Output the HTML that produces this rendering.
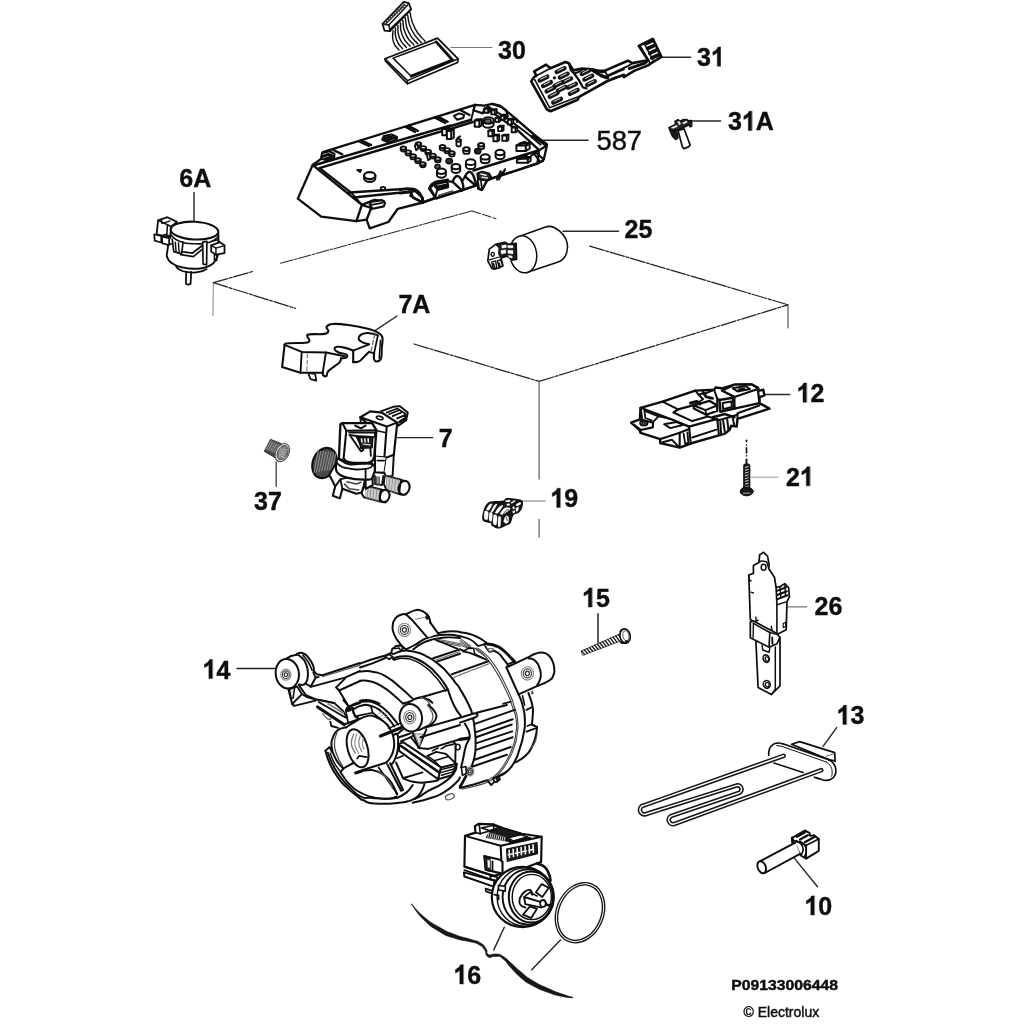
<!DOCTYPE html>
<html><head><meta charset="utf-8"><title>Exploded view</title>
<style>
html,body{margin:0;padding:0;background:#fff;}
body{width:1024px;height:1024px;overflow:hidden;font-family:"Liberation Sans",sans-serif;}
svg{display:block;}
text{font-family:"Liberation Sans",sans-serif;fill:#111;stroke:#111;stroke-width:0.45px;stroke-linejoin:round;}
</style></head><body>
<svg width="1024" height="1024" viewBox="0 0 1024 1024" stroke-linejoin="round" stroke-linecap="round">
<defs><filter id="soft" x="-2%" y="-2%" width="104%" height="104%"><feGaussianBlur stdDeviation="0.55"/></filter></defs>
<rect width="1024" height="1024" fill="#fff"/>
<g filter="url(#soft)">
<!-- 00_labels.py -->
<text transform="translate(498 58.6) scale(0.94 1)" font-size="26.6" font-weight="bold" text-anchor="start" >30</text>
<text transform="translate(697 66.2) scale(0.94 1)" font-size="26.6" font-weight="bold" text-anchor="start" >3</text>
<path d="M720.74 66.2 L717.31 66.2 L717.31 52.45 Q715.43 54.32 712.88 55.21 L712.88 51.9 Q714.22 51.43 715.8 50.13 Q717.37 48.82 717.96 47.08 L720.74 47.08Z" fill="#111" stroke="#111" stroke-width="0.45" stroke-linejoin="round"/>
<text transform="translate(728 130.4) scale(0.94 1)" font-size="26.6" font-weight="bold" text-anchor="start" >3</text>
<path d="M751.74 130.4 L748.31 130.4 L748.31 116.65 Q746.43 118.52 743.88 119.41 L743.88 116.1 Q745.22 115.63 746.8 114.33 Q748.37 113.02 748.96 111.28 L751.74 111.28Z" fill="#111" stroke="#111" stroke-width="0.45" stroke-linejoin="round"/>
<text transform="translate(755.8 130.4) scale(0.94 1)" font-size="26.6" font-weight="bold" text-anchor="start" >A</text>
<text transform="translate(596.4 149.8) scale(1.0 1)" font-size="27.4" font-weight="normal" text-anchor="start" stroke-width="0.5">587</text>
<text transform="translate(624.5 238.3) scale(0.94 1)" font-size="26.6" font-weight="bold" text-anchor="start" >25</text>
<text transform="translate(179.3 187) scale(0.94 1)" font-size="26.6" font-weight="bold" text-anchor="start" >6A</text>
<text transform="translate(398.4 312.9) scale(0.94 1)" font-size="26.6" font-weight="bold" text-anchor="start" >7A</text>
<path d="M806.44 402.2 L803.01 402.2 L803.01 388.45 Q801.13 390.32 798.58 391.21 L798.58 387.9 Q799.92 387.43 801.5 386.13 Q803.07 384.82 803.66 383.08 L806.44 383.08Z" fill="#111" stroke="#111" stroke-width="0.45" stroke-linejoin="round"/>
<text transform="translate(810.5 402.2) scale(0.94 1)" font-size="26.6" font-weight="bold" text-anchor="start" >2</text>
<text transform="translate(786 485.8) scale(0.94 1)" font-size="26.6" font-weight="bold" text-anchor="start" >2</text>
<path d="M809.74 485.8 L806.31 485.8 L806.31 472.05 Q804.43 473.92 801.88 474.81 L801.88 471.5 Q803.22 471.03 804.8 469.73 Q806.37 468.42 806.96 466.68 L809.74 466.68Z" fill="#111" stroke="#111" stroke-width="0.45" stroke-linejoin="round"/>
<text transform="translate(438.8 447.4) scale(0.94 1)" font-size="26.6" font-weight="bold" text-anchor="start" >7</text>
<text transform="translate(254 509.5) scale(0.94 1)" font-size="26.6" font-weight="bold" text-anchor="start" >37</text>
<path d="M560.14 507.4 L556.71 507.4 L556.71 493.65 Q554.83 495.52 552.28 496.41 L552.28 493.1 Q553.62 492.63 555.2 491.33 Q556.77 490.02 557.36 488.28 L560.14 488.28Z" fill="#111" stroke="#111" stroke-width="0.45" stroke-linejoin="round"/>
<text transform="translate(564.2 507.4) scale(0.94 1)" font-size="26.6" font-weight="bold" text-anchor="start" >9</text>
<path d="M591.84 607 L588.41 607 L588.41 593.25 Q586.53 595.12 583.98 596.01 L583.98 592.7 Q585.32 592.23 586.9 590.93 Q588.47 589.62 589.06 587.88 L591.84 587.88Z" fill="#111" stroke="#111" stroke-width="0.45" stroke-linejoin="round"/>
<text transform="translate(595.9 607) scale(0.94 1)" font-size="26.6" font-weight="bold" text-anchor="start" >5</text>
<text transform="translate(814.5 615.3) scale(0.94 1)" font-size="26.6" font-weight="bold" text-anchor="start" >26</text>
<path d="M212.34 678.5 L208.91 678.5 L208.91 664.75 Q207.03 666.62 204.48 667.51 L204.48 664.2 Q205.82 663.73 207.4 662.43 Q208.97 661.12 209.56 659.38 L212.34 659.38Z" fill="#111" stroke="#111" stroke-width="0.45" stroke-linejoin="round"/>
<text transform="translate(216.4 678.5) scale(0.94 1)" font-size="26.6" font-weight="bold" text-anchor="start" >4</text>
<path d="M846.34 724.4 L842.91 724.4 L842.91 710.65 Q841.03 712.52 838.48 713.41 L838.48 710.1 Q839.82 709.63 841.4 708.33 Q842.97 707.02 843.56 705.28 L846.34 705.28Z" fill="#111" stroke="#111" stroke-width="0.45" stroke-linejoin="round"/>
<text transform="translate(850.4 724.4) scale(0.94 1)" font-size="26.6" font-weight="bold" text-anchor="start" >3</text>
<path d="M814.24 915 L810.81 915 L810.81 901.25 Q808.93 903.12 806.38 904.01 L806.38 900.7 Q807.72 900.23 809.3 898.93 Q810.87 897.62 811.46 895.88 L814.24 895.88Z" fill="#111" stroke="#111" stroke-width="0.45" stroke-linejoin="round"/>
<text transform="translate(818.3 915) scale(0.94 1)" font-size="26.6" font-weight="bold" text-anchor="start" >0</text>
<path d="M463.24 983.9 L459.81 983.9 L459.81 970.15 Q457.93 972.02 455.38 972.91 L455.38 969.6 Q456.72 969.13 458.3 967.83 Q459.87 966.52 460.46 964.78 L463.24 964.78Z" fill="#111" stroke="#111" stroke-width="0.45" stroke-linejoin="round"/>
<text transform="translate(467.3 983.9) scale(0.94 1)" font-size="26.6" font-weight="bold" text-anchor="start" >6</text>
<text transform="translate(731.2 989.8) scale(1.125 1)" font-size="14" font-weight="bold" text-anchor="start" stroke-width="0.15">P09133006448</text>
<text transform="translate(743.5 1017.2) scale(1.0 1)" font-size="14" font-weight="normal" text-anchor="start" stroke-width="0.1">© Electrolux</text>
<line x1="451" y1="47.5" x2="492" y2="47.5" stroke="#777" stroke-width="1.1" />
<line x1="662" y1="57.3" x2="690.5" y2="57.3" stroke="#2a2a2a" stroke-width="1.45" />
<line x1="692.5" y1="120.9" x2="720.6" y2="120.9" stroke="#2a2a2a" stroke-width="1.45" />
<line x1="543" y1="140.3" x2="588" y2="140.3" stroke="#2a2a2a" stroke-width="1.45" />
<line x1="563" y1="231.3" x2="618.5" y2="231.3" stroke="#2a2a2a" stroke-width="1.45" />
<line x1="194" y1="192.5" x2="194" y2="221" stroke="#2a2a2a" stroke-width="1.45" />
<line x1="397" y1="316" x2="375" y2="330.6" stroke="#2a2a2a" stroke-width="1.45" />
<line x1="765" y1="394.4" x2="789.7" y2="394.4" stroke="#2a2a2a" stroke-width="1.45" />
<line x1="751.5" y1="477.2" x2="778.2" y2="477.2" stroke="#999" stroke-width="1.0" />
<line x1="397.6" y1="437.6" x2="432.7" y2="437.6" stroke="#222" stroke-width="1.4" />
<line x1="276.2" y1="462" x2="276.2" y2="486.2" stroke="#555" stroke-width="1.5" />
<line x1="520.6" y1="501" x2="545.3" y2="501" stroke="#777" stroke-width="1.1" />
<line x1="598" y1="613.8" x2="598" y2="642.5" stroke="#222" stroke-width="1.5" />
<line x1="786.6" y1="606.9" x2="806.9" y2="606.9" stroke="#777" stroke-width="1.1" />
<line x1="237" y1="668.5" x2="275.6" y2="668.5" stroke="#222" stroke-width="1.4" />
<line x1="836.6" y1="727.6" x2="823.1" y2="746.4" stroke="#2a2a2a" stroke-width="1.45" />
<line x1="793.9" y1="857.6" x2="817.5" y2="886.8" stroke="#2a2a2a" stroke-width="1.45" />
<line x1="504.3" y1="927.2" x2="493.8" y2="949.9" stroke="#222" stroke-width="1.4" />
<line x1="560.5" y1="940.1" x2="531.7" y2="969.8" stroke="#222" stroke-width="1.4" />
<line x1="213.3" y1="283" x2="213" y2="315.5" stroke="#777" stroke-width="0.9" />
<line x1="213.3" y1="282.7" x2="252.6" y2="271.5" stroke="#222" stroke-width="1.25" stroke-dasharray="15 1.6 3 1.6"/>
<line x1="280.6" y1="263.3" x2="472" y2="210.9" stroke="#2a2a2a" stroke-width="1.05" stroke-dasharray="13 1.5 2.5 1.5"/>
<line x1="472" y1="210.9" x2="496" y2="218.7" stroke="#2a2a2a" stroke-width="1.05" stroke-dasharray="9 2"/>
<line x1="213.3" y1="282.7" x2="295.6" y2="308.4" stroke="#222" stroke-width="1.25" stroke-dasharray="15 1.6 3 1.6"/>
<line x1="414" y1="344" x2="539.1" y2="381.4" stroke="#222" stroke-width="1.25" stroke-dasharray="15 1.6 3 1.6"/>
<line x1="539.1" y1="381.4" x2="788" y2="304.8" stroke="#222" stroke-width="1.25" stroke-dasharray="15 1.6 3 1.6"/>
<line x1="589.7" y1="246.1" x2="788" y2="304.8" stroke="#222" stroke-width="1.25" stroke-dasharray="15 1.6 3 1.6"/>
<line x1="788" y1="304.8" x2="788" y2="328" stroke="#333" stroke-width="1.0" />
<line x1="539.1" y1="381.4" x2="539.1" y2="479" stroke="#666" stroke-width="1.3" />
<line x1="539.1" y1="519.4" x2="539.1" y2="537" stroke="#666" stroke-width="1.3" />
<!-- 10_p30.py -->
<path d="M393.1 30.6 C393.2 34.3 391.4 35.1 393.3 41.6 C395.3 48 397.1 47.2 399 50" fill="none" stroke="#111" stroke-width="1.43" />
<path d="M395.5 28 C395.8 31.9 394 32.7 396.4 39.6 C398.8 46.5 400.6 45.7 402.7 48.8" fill="none" stroke="#111" stroke-width="1.43" />
<path d="M397.9 25.4 C398.4 29.5 396.6 30.4 399.4 37.7 C402.3 45.1 404.1 44.2 406.4 47.5" fill="none" stroke="#111" stroke-width="1.43" />
<path d="M400.4 22.9 C401.1 27.2 399.2 28 402.5 35.8 C405.8 43.6 407.6 42.8 410.1 46.2" fill="none" stroke="#111" stroke-width="1.43" />
<path d="M402.8 20.3 C403.7 24.8 401.9 25.6 405.6 33.9 C409.3 42.1 411.1 41.3 413.9 45" fill="none" stroke="#111" stroke-width="1.43" />
<path d="M405.2 17.7 C406.3 22.4 404.5 23.3 408.6 32 C412.8 40.7 414.6 39.8 417.6 43.8" fill="none" stroke="#111" stroke-width="1.43" />
<path d="M407.6 15.1 C409 20.1 407.1 20.9 411.7 30 C416.3 39.2 418.1 38.3 421.3 42.5" fill="none" stroke="#111" stroke-width="1.43" />
<path d="M410 12.5 C411.6 17.7 409.8 18.5 414.8 28.1 C419.8 37.7 421.6 36.9 425 41.2" fill="none" stroke="#111" stroke-width="1.43" />
<path d="M382.5 23.8 L403.8 1.9 L408.8 3.1 L411.2 9.4 L390 31.2 L384.4 30.6Z" fill="#fff" stroke="#111" stroke-width="1.76" />
<path d="M390 29.4 L410.2 9.8" fill="none" stroke="#111" stroke-width="1.54" />
<path d="M382.5 23.8 L388.8 25 L390 31.2" fill="none" stroke="#111" stroke-width="1.43" />
<path d="M388.8 25 L408.8 3.8" fill="none" stroke="#111" stroke-width="1.43" />
<path d="M386 22.2 L406 3.5" fill="none" stroke="#222" stroke-width="2.86" stroke-dasharray="1.4 1.35" stroke-linecap="butt"/>
<path d="M384.8 25 L404.4 5" fill="none" stroke="#333" stroke-width="1.32" />
<path d="M385 58.8 L437.5 38.1 L458.1 58.8 L457.5 62.5 L407.5 83.8 L385.6 61.2Z" fill="#fff" stroke="#111" stroke-width="1.76" />
<path d="M385 58.8 L407.5 80.6 L458.1 58.8" fill="none" stroke="#111" stroke-width="1.54" />
<path d="M407.5 80.6 L407.5 83.8" fill="none" stroke="#111" stroke-width="1.43" />
<path d="M393.1 58.1 L436.2 41.9 L452.5 60 L411.2 76.2Z" fill="none" stroke="#111" stroke-width="1.54" />
<path d="M436.2 41.9 L452.5 60 L411.2 76.2" fill="none" stroke="#111" stroke-width="2.86" />
<!-- 11_p31.py -->
<path d="M531.2 81.4 L533.8 77.4 L536.4 75.7 L534.2 71.3 L546.1 64.7 L550.5 68.2 L565.4 62 L568.9 63.3 L573.3 70.4 L582.1 68.6 L588.3 69.1 L594.4 69.9 L602.3 72.1 L604.4 70.9 L627.8 60.7 L632.5 63.1 L645 60.7 L648.1 60.2 L638.8 45.9 L652.8 38.8 L661.4 56.8 L651.2 63.1 L648.1 65.4 L634.1 70.9 L623.9 77.1 L623.9 74.8 L607.5 81 L578.6 97.2 L577.7 99.8 L550.5 111.2 L547 109.5Z" fill="#fff" stroke="#111" stroke-width="2.62" />
<path d="M534.7 79.6 L549.6 107.7 L576.9 97.2" fill="none" stroke="#111" stroke-width="1.62" />
<path d="M536.4 75.7 L550.5 68.2" fill="none" stroke="#111" stroke-width="1.75" />
<path d="M568.9 63.3 L570.7 69.9 L574.2 73.5 L578.6 79.6 L583 87.5 L586.5 88.4" fill="none" stroke="#111" stroke-width="2.25" />
<path d="M574.2 73.5 L579.5 71.7 L583 69.1" fill="none" stroke="#111" stroke-width="1.88" />
<path d="M593.4 70.9 L601.2 75.6 L607.5 77.9" fill="none" stroke="#111" stroke-width="3.25" />
<path d="M604.4 70.9 L607.5 75.6 L627.8 66.2 L632.5 63.1" fill="none" stroke="#111" stroke-width="1.88" />
<path d="M629.4 68.5 L645 63.1 L648.1 60.2" fill="none" stroke="#111" stroke-width="3.0" />
<path d="M588.8 69.3 L598.1 70.9 L605.2 70.9" fill="none" stroke="#111" stroke-width="3.0" />
<path d="M539.7 80.4 L547.2 76.7" fill="none" stroke="#151515" stroke-width="4.5" />
<path d="M540.6 79.2 L546.3 76.5" fill="none" stroke="#ddd" stroke-width="1.0" />
<path d="M543.2 85.9 L550.8 82.2" fill="none" stroke="#151515" stroke-width="4.5" />
<path d="M544.1 84.7 L549.8 81.9" fill="none" stroke="#ddd" stroke-width="1.0" />
<path d="M546.7 91.3 L554.3 87.6" fill="none" stroke="#151515" stroke-width="4.5" />
<path d="M547.6 90.1 L553.3 87.4" fill="none" stroke="#ddd" stroke-width="1.0" />
<path d="M549.8 96.8 L557.4 93.1" fill="none" stroke="#151515" stroke-width="4.5" />
<path d="M550.7 95.7 L556.4 92.9" fill="none" stroke="#ddd" stroke-width="1.0" />
<path d="M553.3 102.6 L560.9 98.9" fill="none" stroke="#151515" stroke-width="4.5" />
<path d="M554.2 101.4 L559.9 98.6" fill="none" stroke="#ddd" stroke-width="1.0" />
<path d="M556.8 72 L564.4 68.3" fill="none" stroke="#151515" stroke-width="4.5" />
<path d="M557.8 70.8 L563.4 68" fill="none" stroke="#ddd" stroke-width="1.0" />
<path d="M559.9 77.5 L567.5 73.8" fill="none" stroke="#151515" stroke-width="4.5" />
<path d="M560.8 76.3 L566.5 73.6" fill="none" stroke="#ddd" stroke-width="1.0" />
<path d="M563.4 82.3 L571 78.6" fill="none" stroke="#151515" stroke-width="4.5" />
<path d="M564.3 81.2 L570 78.4" fill="none" stroke="#ddd" stroke-width="1.0" />
<path d="M568.2 87.6 L575.8 83.9" fill="none" stroke="#151515" stroke-width="4.5" />
<path d="M569.2 86.4 L574.9 83.7" fill="none" stroke="#ddd" stroke-width="1.0" />
<path d="M570 93.8 L577.6 90.1" fill="none" stroke="#151515" stroke-width="4.5" />
<path d="M570.9 92.6 L576.6 89.8" fill="none" stroke="#ddd" stroke-width="1.0" />
<path d="M554.6 85.9 L562.2 82.2" fill="none" stroke="#151515" stroke-width="4.5" />
<path d="M555.6 84.7 L561.2 81.9" fill="none" stroke="#ddd" stroke-width="1.0" />
<path d="M558.1 90.7 L565.7 87" fill="none" stroke="#151515" stroke-width="4.5" />
<path d="M559.1 89.5 L564.8 86.7" fill="none" stroke="#ddd" stroke-width="1.0" />
<path d="M581.9 74 L589.4 70.3" fill="none" stroke="#151515" stroke-width="4.5" />
<path d="M582.8 72.8 L588.5 70" fill="none" stroke="#ddd" stroke-width="1.0" />
<path d="M584.5 79.5 L592.1 75.8" fill="none" stroke="#151515" stroke-width="4.5" />
<path d="M585.4 78.4 L591.1 75.6" fill="none" stroke="#ddd" stroke-width="1.0" />
<path d="M587.1 85 L594.7 81.3" fill="none" stroke="#151515" stroke-width="4.5" />
<path d="M588.1 83.8 L593.8 81" fill="none" stroke="#ddd" stroke-width="1.0" />
<ellipse cx="554.4" cy="77.9" rx="1.3" ry="1.3" transform="rotate(0 554.4 77.9)" fill="#111" stroke="#111" stroke-width="0.62"/>
<path d="M607.7 76.2 L612 74.3" fill="none" stroke="#111" stroke-width="2.25" />
<path d="M613.4 73.7 L617.8 71.8" fill="none" stroke="#111" stroke-width="2.25" />
<path d="M619.4 71 L623.8 69.2" fill="none" stroke="#111" stroke-width="2.25" />
<path d="M612.3 78.8 L616.7 77" fill="none" stroke="#111" stroke-width="2.25" />
<path d="M638.8 45.9 L641.1 47.4 L649.7 62.3" fill="none" stroke="#111" stroke-width="1.62" />
<path d="M644.2 43.5 L652.8 59.9" fill="none" stroke="#111" stroke-width="1.5" />
<path d="M645.5 43.8 L653.1 40.4" fill="none" stroke="#111" stroke-width="3.75" />
<path d="M647.6 48.5 L655.2 45.1" fill="none" stroke="#111" stroke-width="3.75" />
<path d="M649.7 53.2 L657.3 49.8" fill="none" stroke="#111" stroke-width="3.75" />
<path d="M651.8 57.9 L659.5 54.5" fill="none" stroke="#111" stroke-width="3.75" />
<!-- 12_p31a.py -->
<path d="M669.6 129.6 L676.7 130.8 L678.1 137.8 L675.5 139.6 L672.6 136.6Z" fill="#1a1a1a" stroke="#111" stroke-width="1.4" />
<path d="M678.1 130.8 L684 128.7 L690.2 145.1 L688.4 146.9 L684 148.7 L682.5 147.2Z" fill="#fff" stroke="#111" stroke-width="1.7" />
<path d="M668.8 127.6 L675.5 124.3 L674.9 121.4 L677.9 119.6 L680.2 121.1 L683.1 119.6 L686.6 119.4 L688.4 120.8 L691.6 120.5 L691.9 126.1 L690.2 127 L689 124.9 L676.7 130.8 L669.6 129.6Z" fill="#222" stroke="#111" stroke-width="1.4" />
<path d="M671.4 127.6 L676.4 125.2 L677.6 126.4 L673.2 128.4Z" fill="#fff" stroke="#fff" stroke-width="0.3" />
<path d="M682.5 122.9 L686.3 120.9 L687.5 122 L683.7 124Z" fill="#fff" stroke="#fff" stroke-width="0.3" />
<path d="M677.6 121.7 L679.3 121.1 L680.8 124 L679.3 124.9Z" fill="#eee" stroke="#eee" stroke-width="0.3" />
<!-- 13_p587.py -->
<path d="M297.8 198.6 L312.7 165 L321.2 158.8 L322.8 152.2 L475 104.8 L484.4 105.6 L492.2 103.8 L501.6 107.2 L509.4 113.4 L546.9 145.5 L543.8 159.5 L538.3 163.4 L520 169.4 L492.5 178.1 L486.7 180.6 L482 189.8 L478.4 188.9 L477.3 183.9 L475 185.8 L460.9 190.5 L436.2 198 L422.2 202.7 L422.8 202.5 L397.8 208.8 L388.4 222 L369.7 228.3 L366.6 219.7 L356.4 221.2 L321.2 216.6Z" fill="#fff" stroke="#111" stroke-width="2.33" />
<path d="M312.7 165 L361.9 204.8 L356.4 221.2" fill="none" stroke="#111" stroke-width="2.33" />
<path d="M361.9 204.8 L371.2 208 L366.6 219.7" fill="none" stroke="#111" stroke-width="2.33" />
<path d="M315.8 164.7 L450 125.6" fill="none" stroke="#111" stroke-width="2.48" />
<path d="M319.4 168.1 L450 128.8" fill="none" stroke="#111" stroke-width="2.48" />
<path d="M450 126.2 L471.1 119.7" fill="none" stroke="#111" stroke-width="2.48" />
<path d="M450 129.1 L472.7 122" fill="none" stroke="#111" stroke-width="2.48" />
<path d="M471.1 119.7 L475 104.8" fill="none" stroke="#111" stroke-width="1.86" />
<path d="M333 149.7 L342.3 154.4" fill="none" stroke="#111" stroke-width="2.33" />
<path d="M358.8 141.2 L368.9 145.9" fill="none" stroke="#111" stroke-width="2.33" />
<path d="M361.1 140.3 L371.2 145" fill="none" stroke="#111" stroke-width="2.33" />
<path d="M405.6 126.9 L415 131.9" fill="none" stroke="#111" stroke-width="2.33" />
<path d="M408.4 125.9 L417.8 130.9" fill="none" stroke="#111" stroke-width="2.33" />
<path d="M435.3 117.5 L444.7 122.5" fill="none" stroke="#111" stroke-width="2.33" />
<path d="M435.2 117.8 L445.3 122.8" fill="none" stroke="#111" stroke-width="2.33" />
<path d="M438.3 116.9 L447.7 121.7" fill="none" stroke="#111" stroke-width="2.33" />
<path d="M460.2 110 L469.5 115" fill="none" stroke="#111" stroke-width="2.33" />
<path d="M321.2 158.8 L322 153.3 L329.1 151.2 L334.5 153.8 L333.8 158 L326.7 160.3Z" fill="#fff" stroke="#111" stroke-width="2.17" />
<path d="M322.8 156.4 L328.3 154.4 L333.8 156.4" fill="none" stroke="#111" stroke-width="3.1" />
<path d="M325.2 158.8 L330.9 156.9" fill="none" stroke="#111" stroke-width="2.48" />
<path d="M382.2 139.7 L383.8 136.1 L391.6 134.5 L397 136.9 L396.2 140.3 L388.4 142.3Z" fill="#fff" stroke="#111" stroke-width="2.17" />
<path d="M383.8 138.8 L390 136.9 L396.2 138.8" fill="none" stroke="#111" stroke-width="3.1" />
<path d="M386.1 140.8 L392.3 138.8" fill="none" stroke="#111" stroke-width="2.48" />
<path d="M453.9 115.8 L459.4 113.4 L464.1 115 L463.3 118.1 L457 119.7Z" fill="#fff" stroke="#111" stroke-width="2.02" />
<path d="M319.7 168.1 L351.7 193.1" fill="none" stroke="#111" stroke-width="2.33" />
<path d="M349.4 192.5 L407.2 188.8" fill="none" stroke="#111" stroke-width="2.48" />
<path d="M353.3 197.5 L409.5 191.6" fill="none" stroke="#111" stroke-width="2.48" />
<path d="M351.7 193.1 L361.9 204.8" fill="none" stroke="#111" stroke-width="2.02" />
<path d="M361.9 204.8 L374.4 199.8 L383.8 201.2" fill="none" stroke="#111" stroke-width="2.33" />
<path d="M369.7 204.8 L371.2 201.7 L382.2 200.2 L385 202.8 L383.8 206.4 L372.8 208.8Z" fill="#fff" stroke="#111" stroke-width="2.17" />
<path d="M371.2 204.8 L382.2 202.8" fill="none" stroke="#111" stroke-width="1.86" />
<path d="M407.2 188.8 L415 190.8 L422.8 197.8 L422.8 202.5 L413.4 197.8 L410.3 192.3" fill="none" stroke="#111" stroke-width="2.48" />
<path d="M422.8 202.5 L435.3 197.8" fill="none" stroke="#111" stroke-width="2.33" />
<path d="M435.3 197.8 L429.8 187.7 L436.1 182.2 L447.8 179.8" fill="none" stroke="#111" stroke-width="2.48" />
<path d="M434.5 185.3 L447 182.5 L448.1 187.2 L437.7 190Z" fill="#fff" stroke="#111" stroke-width="2.17" />
<path d="M364.1 175.6 L364.1 178.4 A5.6 3.5 0 0 0 375.3 178.4 L375.3 175.6" fill="#fff" stroke="#111" stroke-width="2.17" />
<ellipse cx="369.7" cy="175.6" rx="5.6" ry="3.5" transform="rotate(0 369.7 175.6)" fill="#fff" stroke="#111" stroke-width="2.17"/>
<path d="M357.2 170 L361.1 170 L360 172Z" fill="#333" stroke="#111" stroke-width="1.86" />
<ellipse cx="383" cy="188.4" rx="2.2" ry="1.5" transform="rotate(0 383 188.4)" fill="none" stroke="#111" stroke-width="1.86"/>
<path d="M539.1 150.2 L473.4 170.5" fill="none" stroke="#111" stroke-width="2.48" />
<path d="M492.6 178.1 L520 169.3 L543 161.1" fill="none" stroke="#111" stroke-width="2.17" />
<path d="M400 189.8 C403.2 189.5 405.3 188.3 410.5 188.7 C415.8 189 414.2 188.6 417.6 191 C420.9 193.5 420.2 193.4 421.7 196.9 C423.2 200.4 422.3 201 422.5 202.7" fill="none" stroke="#111" stroke-width="2.48" />
<path d="M410.5 195.9 C411.2 194.7 410.5 193.2 412.7 191.7 C414.8 190.2 416.1 191.2 417.6 191" fill="none" stroke="#111" stroke-width="2.17" />
<path d="M410.5 195.9 L422.3 202.3" fill="none" stroke="#111" stroke-width="2.33" />
<path d="M400 193.6 L410 192.4" fill="none" stroke="#111" stroke-width="2.02" />
<path d="M429.3 188.9 C430.1 187.5 429.1 186.5 431.9 184.2 C434.7 181.9 434.2 182 438.7 181.2 C443.2 180.3 444.4 181.3 446.9 181.4" fill="none" stroke="#111" stroke-width="2.48" />
<path d="M429.3 188.9 L435.2 197.1 L436.6 198.3" fill="none" stroke="#111" stroke-width="2.33" />
<path d="M435.2 197.1 C435.8 195.1 436 193.2 437.3 190.4 C438.5 187.6 438.7 188.5 439.3 187.7" fill="none" stroke="#111" stroke-width="2.02" />
<path d="M435.2 184.2 L446.9 181.6 L448.3 185.5 L437.7 188.4Z" fill="#fff" stroke="#111" stroke-width="2.17" />
<path d="M437.7 186.6 L446.6 184.5" fill="none" stroke="#111" stroke-width="2.02" />
<path d="M422.5 202.7 L435.2 197.8" fill="none" stroke="#111" stroke-width="2.33" />
<path d="M446.9 181.4 L452.7 181.6" fill="none" stroke="#111" stroke-width="2.17" />
<path d="M452.7 181.9 C453.4 180.5 453.3 178.8 455.1 177.2 C456.9 175.6 456.7 175.1 458.8 176.5 C460.9 177.8 460.8 178.3 462.1 181.6 C463.4 184.9 463.3 184.8 463.3 187.5 C463.3 190.2 462.5 189.6 462.1 190.5" fill="none" stroke="#111" stroke-width="2.48" />
<path d="M452.7 181.9 L461.6 190.1" fill="none" stroke="#111" stroke-width="2.33" />
<path d="M436.6 198.3 L460.9 190.7 L475 185.9" fill="none" stroke="#111" stroke-width="2.33" />
<path d="M438.7 195.5 L452.7 191" fill="none" stroke="#444" stroke-width="1.55" />
<path d="M465 176.5 C465.9 175.3 466 173.6 468 172.5 C470 171.4 469.6 170.6 471.7 173 C473.8 175.4 473.8 176.8 475 180.5 C476.2 184.1 475.5 183.8 475.7 185.2" fill="none" stroke="#111" stroke-width="2.48" />
<path d="M465 176.5 L474.5 184.7" fill="none" stroke="#111" stroke-width="2.33" />
<path d="M462.1 181.6 L465 176.5" fill="none" stroke="#111" stroke-width="2.02" />
<path d="M477.6 180.7 L478.8 188.7 L482 189.8 L486.5 181.4" fill="#fff" stroke="#111" stroke-width="2.33" />
<path d="M480.9 180.7 L482 189.3" fill="none" stroke="#111" stroke-width="1.71" />
<path d="M477.3 173.4 L482 171.7 L489.1 173.4 L491.4 177.5 L486.7 180.7 L477.9 179.3Z" fill="#2a2a2a" stroke="#111" stroke-width="1.86" />
<path d="M480.9 174 L486.1 175.2" fill="none" stroke="#eee" stroke-width="1.55" />
<path d="M482 177.2 L487.3 178.1" fill="none" stroke="#ddd" stroke-width="1.55" />
<path d="M486.7 180.7 L492.6 178.1" fill="none" stroke="#111" stroke-width="2.17" />
<path d="M497 179.5 L500.6 171.3" fill="none" stroke="#111" stroke-width="2.17" />
<path d="M499 179.5 L502.2 172.3" fill="none" stroke="#111" stroke-width="1.86" />
<path d="M502.2 175.2 L505 169.3" fill="none" stroke="#111" stroke-width="2.17" />
<path d="M484.4 108.8 L493.8 113.4 L518.8 131.4 L539.1 150.2" fill="none" stroke="#111" stroke-width="2.33" />
<path d="M487.5 106.4 L509.4 119.7 L529.7 135.3 L540.6 144.7" fill="none" stroke="#111" stroke-width="2.02" />
<path d="M546.9 145.5 L539.1 150.2 L537.5 163.4" fill="none" stroke="#111" stroke-width="2.33" />
<path d="M532.8 136.9 L537.5 138.4 L546.1 144.7" fill="none" stroke="#111" stroke-width="4.03" />
<path d="M531.2 155.6 L535.9 152.5 L543 158.8" fill="none" stroke="#111" stroke-width="2.17" />
<path d="M534.4 154.1 L539.1 160.3" fill="none" stroke="#111" stroke-width="2.02" />
<path d="M475 104.8 L473.4 110.3 L482.8 113.4 L484.4 108.8" fill="none" stroke="#111" stroke-width="2.17" />
<path d="M492.2 103.8 L500 105.6 L506.2 110.3 L507.8 116.6" fill="none" stroke="#111" stroke-width="2.17" />
<path d="M509.4 120.5 L516.4 118.9 L517.2 122" fill="none" stroke="#111" stroke-width="2.17" />
<path d="M400.8 148.1 L400.8 150.3 A2.7 1.6 0 0 0 406.1 150.3 L406.1 148.1" fill="#fff" stroke="#111" stroke-width="1.94" />
<ellipse cx="403.4" cy="148.1" rx="2.7" ry="1.6" transform="rotate(0 403.4 148.1)" fill="#fff" stroke="#111" stroke-width="1.94"/>
<path d="M405.6 152 L405.6 154.2 A2.7 1.6 0 0 0 410.9 154.2 L410.9 152" fill="#fff" stroke="#111" stroke-width="1.94" />
<ellipse cx="408.3" cy="152" rx="2.7" ry="1.6" transform="rotate(0 408.3 152)" fill="#fff" stroke="#111" stroke-width="1.94"/>
<path d="M410.5 155.9 L410.5 158.1 A2.7 1.6 0 0 0 415.8 158.1 L415.8 155.9" fill="#fff" stroke="#111" stroke-width="1.94" />
<ellipse cx="413.1" cy="155.9" rx="2.7" ry="1.6" transform="rotate(0 413.1 155.9)" fill="#fff" stroke="#111" stroke-width="1.94"/>
<path d="M415.3 159.8 L415.3 162 A2.7 1.6 0 0 0 420.6 162 L420.6 159.8" fill="#fff" stroke="#111" stroke-width="1.94" />
<ellipse cx="418" cy="159.8" rx="2.7" ry="1.6" transform="rotate(0 418 159.8)" fill="#fff" stroke="#111" stroke-width="1.94"/>
<path d="M420.2 163.8 L420.2 165.9 A2.7 1.6 0 0 0 425.5 165.9 L425.5 163.8" fill="#fff" stroke="#111" stroke-width="1.94" />
<ellipse cx="422.8" cy="163.8" rx="2.7" ry="1.6" transform="rotate(0 422.8 163.8)" fill="#fff" stroke="#111" stroke-width="1.94"/>
<path d="M415.8 143.9 L415.8 146.1 A2.7 1.6 0 0 0 421.1 146.1 L421.1 143.9" fill="#fff" stroke="#111" stroke-width="1.94" />
<ellipse cx="418.4" cy="143.9" rx="2.7" ry="1.6" transform="rotate(0 418.4 143.9)" fill="#fff" stroke="#111" stroke-width="1.94"/>
<path d="M420.6 147.7 L420.6 149.8 A2.7 1.6 0 0 0 425.9 149.8 L425.9 147.7" fill="#fff" stroke="#111" stroke-width="1.94" />
<ellipse cx="423.3" cy="147.7" rx="2.7" ry="1.6" transform="rotate(0 423.3 147.7)" fill="#fff" stroke="#111" stroke-width="1.94"/>
<path d="M425.5 151.4 L425.5 153.6 A2.7 1.6 0 0 0 430.8 153.6 L430.8 151.4" fill="#fff" stroke="#111" stroke-width="1.94" />
<ellipse cx="428.1" cy="151.4" rx="2.7" ry="1.6" transform="rotate(0 428.1 151.4)" fill="#fff" stroke="#111" stroke-width="1.94"/>
<path d="M430.3 155.2 L430.3 157.3 A2.7 1.6 0 0 0 435.6 157.3 L435.6 155.2" fill="#fff" stroke="#111" stroke-width="1.94" />
<ellipse cx="433" cy="155.2" rx="2.7" ry="1.6" transform="rotate(0 433 155.2)" fill="#fff" stroke="#111" stroke-width="1.94"/>
<path d="M435.2 158.9 L435.2 161.1 A2.7 1.6 0 0 0 440.5 161.1 L440.5 158.9" fill="#fff" stroke="#111" stroke-width="1.94" />
<ellipse cx="437.8" cy="158.9" rx="2.7" ry="1.6" transform="rotate(0 437.8 158.9)" fill="#fff" stroke="#111" stroke-width="1.94"/>
<path d="M414.8 145.5 L417.2 143.9 L418.4 148.6 L416.1 150.2Z" fill="#fff" stroke="#111" stroke-width="1.86" />
<path d="M426.9 154.8 L429.2 153.3 L430.5 158.8 L428.1 160.3Z" fill="#fff" stroke="#111" stroke-width="1.86" />
<path d="M439.8 146.6 L439.8 148.9 A2.7 1.6 0 0 0 445.2 148.9 L445.2 146.6" fill="#fff" stroke="#111" stroke-width="1.94" />
<ellipse cx="442.5" cy="146.6" rx="2.7" ry="1.6" transform="rotate(0 442.5 146.6)" fill="#fff" stroke="#111" stroke-width="1.94"/>
<path d="M444.5 149.7 L444.5 152 A2.7 1.6 0 0 0 449.8 152 L449.8 149.7" fill="#fff" stroke="#111" stroke-width="1.94" />
<ellipse cx="447.2" cy="149.7" rx="2.7" ry="1.6" transform="rotate(0 447.2 149.7)" fill="#fff" stroke="#111" stroke-width="1.94"/>
<path d="M449.2 152.8 L449.2 155.2 A2.7 1.6 0 0 0 454.5 155.2 L454.5 152.8" fill="#fff" stroke="#111" stroke-width="1.94" />
<ellipse cx="451.9" cy="152.8" rx="2.7" ry="1.6" transform="rotate(0 451.9 152.8)" fill="#fff" stroke="#111" stroke-width="1.94"/>
<ellipse cx="449.2" cy="161.1" rx="3.2" ry="2.6" transform="rotate(0 449.2 161.1)" fill="#333" stroke="#111" stroke-width="1.55"/>
<ellipse cx="437.5" cy="166.6" rx="2.6" ry="2.2" transform="rotate(0 437.5 166.6)" fill="#555" stroke="#111" stroke-width="1.55"/>
<path d="M437 171.2 L437 175 A4.4 2.7 0 0 0 445.8 175 L445.8 171.2" fill="#fff" stroke="#111" stroke-width="2.02" />
<ellipse cx="441.4" cy="171.2" rx="4.4" ry="2.7" transform="rotate(0 441.4 171.2)" fill="#fff" stroke="#111" stroke-width="2.02"/>
<path d="M451.7 166.6 L451.7 170.3 A4.2 2.6 0 0 0 460.2 170.3 L460.2 166.6" fill="#fff" stroke="#111" stroke-width="2.02" />
<ellipse cx="455.9" cy="166.6" rx="4.2" ry="2.6" transform="rotate(0 455.9 166.6)" fill="#fff" stroke="#111" stroke-width="2.02"/>
<path d="M463.3 149.1 L463.3 151.9 A3.1 1.9 0 0 0 469.5 151.9 L469.5 149.1" fill="#fff" stroke="#111" stroke-width="2.02" />
<ellipse cx="466.4" cy="149.1" rx="3.1" ry="1.9" transform="rotate(0 466.4 149.1)" fill="#fff" stroke="#111" stroke-width="2.02"/>
<path d="M465.9 162.2 L465.9 166.2 A4.7 2.9 0 0 0 475.3 166.2 L475.3 162.2" fill="#fff" stroke="#111" stroke-width="2.02" />
<ellipse cx="470.6" cy="162.2" rx="4.7" ry="2.9" transform="rotate(0 470.6 162.2)" fill="#fff" stroke="#111" stroke-width="2.02"/>
<path d="M480.8 156.9 L480.8 160.9 A4.4 2.7 0 0 0 489.5 160.9 L489.5 156.9" fill="#fff" stroke="#111" stroke-width="2.02" />
<ellipse cx="485.2" cy="156.9" rx="4.4" ry="2.7" transform="rotate(0 485.2 156.9)" fill="#fff" stroke="#111" stroke-width="2.02"/>
<path d="M495.6 152.5 L495.6 156.6 A4.4 2.7 0 0 0 504.4 156.6 L504.4 152.5" fill="#fff" stroke="#111" stroke-width="2.02" />
<ellipse cx="500" cy="152.5" rx="4.4" ry="2.7" transform="rotate(0 500 152.5)" fill="#fff" stroke="#111" stroke-width="2.02"/>
<path d="M478.4 144.7 L478.4 147.5 A2.8 1.7 0 0 0 484.1 147.5 L484.1 144.7" fill="#fff" stroke="#111" stroke-width="2.02" />
<ellipse cx="481.2" cy="144.7" rx="2.8" ry="1.7" transform="rotate(0 481.2 144.7)" fill="#fff" stroke="#111" stroke-width="2.02"/>
<ellipse cx="477.7" cy="151.2" rx="3" ry="2.6" transform="rotate(0 477.7 151.2)" fill="#222" stroke="#111" stroke-width="1.55"/>
<path d="M456.4 140.3 L456.4 145 A2.2 1.4 0 0 0 460.8 145 L460.8 140.3" fill="#fff" stroke="#111" stroke-width="1.86" />
<ellipse cx="458.6" cy="140.3" rx="2.2" ry="1.4" transform="rotate(0 458.6 140.3)" fill="#fff" stroke="#111" stroke-width="1.86"/>
<path d="M457.5 138.1 L460.2 136.2" fill="none" stroke="#111" stroke-width="1.86" />
<path d="M442.2 129.1 L444.7 127.6 L449.1 127.6 L449.1 133.8 L446.6 135.3 L442.2 135.3Z" fill="#fff" stroke="#111" stroke-width="2.02" />
<path d="M442.2 129.1 L446.6 129.1 L446.6 135.3" fill="none" stroke="#111" stroke-width="2.02" />
<path d="M446.6 129.1 L449.1 127.6" fill="none" stroke="#111" stroke-width="2.02" />
<path d="M446.9 130.9 L449.4 129.4 L453.8 129.4 L453.8 137.6 L451.2 139.1 L446.9 139.1Z" fill="#fff" stroke="#111" stroke-width="2.02" />
<path d="M446.9 130.9 L451.2 130.9 L451.2 139.1" fill="none" stroke="#111" stroke-width="2.02" />
<path d="M451.2 130.9 L453.8 129.4" fill="none" stroke="#111" stroke-width="2.02" />
<path d="M474.7 120.5 L476.9 119.2 L481.6 119.2 L481.6 125.4 L479.4 126.7 L474.7 126.7Z" fill="#fff" stroke="#111" stroke-width="2.02" />
<path d="M474.7 120.5 L479.4 120.5 L479.4 126.7" fill="none" stroke="#111" stroke-width="2.02" />
<path d="M479.4 120.5 L481.6 119.2" fill="none" stroke="#111" stroke-width="2.02" />
<path d="M483 120.5 L483 124.5 A5.3 3.3 0 0 0 493.6 124.5 L493.6 120.5" fill="#fff" stroke="#111" stroke-width="2.02" />
<ellipse cx="488.3" cy="120.5" rx="5.3" ry="3.3" transform="rotate(0 488.3 120.5)" fill="#fff" stroke="#111" stroke-width="2.02"/>
<ellipse cx="487.8" cy="121.2" rx="3.4" ry="2.2" transform="rotate(0 487.8 121.2)" fill="#666" stroke="#111" stroke-width="1.55"/>
<path d="M488.3 130.9 L490 129.9 L494.1 129.9 L494.1 135.2 L492.3 136.2 L488.3 136.2Z" fill="#fff" stroke="#111" stroke-width="1.86" />
<path d="M488.3 130.9 L492.3 130.9 L492.3 136.2" fill="none" stroke="#111" stroke-width="1.86" />
<path d="M492.3 130.9 L494.1 129.9" fill="none" stroke="#111" stroke-width="1.86" />
<path d="M493.4 135.6 L495.2 134.6 L499.2 134.6 L499.2 140.2 L497.5 141.2 L493.4 141.2Z" fill="#fff" stroke="#111" stroke-width="1.86" />
<path d="M493.4 135.6 L497.5 135.6 L497.5 141.2" fill="none" stroke="#111" stroke-width="1.86" />
<path d="M497.5 135.6 L499.2 134.6" fill="none" stroke="#111" stroke-width="1.86" />
<path d="M498.1 126.7 L499.8 125.7 L503.6 125.7 L503.6 130.1 L501.9 131.1 L498.1 131.1Z" fill="#fff" stroke="#111" stroke-width="1.86" />
<path d="M498.1 126.7 L501.9 126.7 L501.9 131.1" fill="none" stroke="#111" stroke-width="1.86" />
<path d="M501.9 126.7 L503.6 125.7" fill="none" stroke="#111" stroke-width="1.86" />
<path d="M502.3 135.6 L504.1 134.6 L508.4 134.6 L508.4 139.9 L506.7 140.9 L502.3 140.9Z" fill="#fff" stroke="#111" stroke-width="1.86" />
<path d="M502.3 135.6 L506.7 135.6 L506.7 140.9" fill="none" stroke="#111" stroke-width="1.86" />
<path d="M506.7 135.6 L508.4 134.6" fill="none" stroke="#111" stroke-width="1.86" />
<path d="M495.3 118.1 L497 117.1 L500.5 117.1 L500.5 120.8 L498.8 121.9 L495.3 121.9Z" fill="#fff" stroke="#111" stroke-width="1.86" />
<path d="M495.3 118.1 L498.8 118.1 L498.8 121.9" fill="none" stroke="#111" stroke-width="1.86" />
<path d="M498.8 118.1 L500.5 117.1" fill="none" stroke="#111" stroke-width="1.86" />
<path d="M500.8 115.8 L502.5 114.8 L505.9 114.8 L505.9 118.8 L504.2 119.8 L500.8 119.8Z" fill="#fff" stroke="#111" stroke-width="1.86" />
<path d="M500.8 115.8 L504.2 115.8 L504.2 119.8" fill="none" stroke="#111" stroke-width="1.86" />
<path d="M504.2 115.8 L505.9 114.8" fill="none" stroke="#111" stroke-width="1.86" />
<path d="M507.8 119.7 L509.5 118.7 L513.3 118.7 L513.3 123.3 L511.6 124.4 L507.8 124.4Z" fill="#fff" stroke="#111" stroke-width="1.86" />
<path d="M507.8 119.7 L511.6 119.7 L511.6 124.4" fill="none" stroke="#111" stroke-width="1.86" />
<path d="M511.6 119.7 L513.3 118.7" fill="none" stroke="#111" stroke-width="1.86" />
<path d="M511.7 127.5 L513.4 126.5 L517.2 126.5 L517.2 131.2 L515.5 132.2 L511.7 132.2Z" fill="#fff" stroke="#111" stroke-width="1.86" />
<path d="M511.7 127.5 L515.5 127.5 L515.5 132.2" fill="none" stroke="#111" stroke-width="1.86" />
<path d="M515.5 127.5 L517.2 126.5" fill="none" stroke="#111" stroke-width="1.86" />
<path d="M484.4 108.8 L486.1 107.7 L489.8 107.7 L489.8 111.8 L488.1 112.8 L484.4 112.8Z" fill="#fff" stroke="#111" stroke-width="1.86" />
<path d="M484.4 108.8 L488.1 108.8 L488.1 112.8" fill="none" stroke="#111" stroke-width="1.86" />
<path d="M488.1 108.8 L489.8 107.7" fill="none" stroke="#111" stroke-width="1.86" />
<path d="M491.4 110.3 L493.1 109.3 L496.6 109.3 L496.6 113.3 L494.8 114.4 L491.4 114.4Z" fill="#fff" stroke="#111" stroke-width="1.86" />
<path d="M491.4 110.3 L494.8 110.3 L494.8 114.4" fill="none" stroke="#111" stroke-width="1.86" />
<path d="M494.8 110.3 L496.6 109.3" fill="none" stroke="#111" stroke-width="1.86" />
<path d="M516.4 145.5 L520.3 143.1 L529.7 143.1 L529.7 148.6 L525.8 150.9 L516.4 150.9Z" fill="#fff" stroke="#111" stroke-width="2.02" />
<path d="M516.4 145.5 L525.8 145.5 L525.8 150.9" fill="none" stroke="#111" stroke-width="2.02" />
<path d="M525.8 145.5 L529.7 143.1" fill="none" stroke="#111" stroke-width="2.02" />
<path d="M520.3 143.9 L525 142.3 L527.3 144.7" fill="none" stroke="#111" stroke-width="3.1" />
<path d="M516.9 158.8 L519.7 157.1 L530.6 157.1 L530.6 161 L527.8 162.7 L516.9 162.7Z" fill="#fff" stroke="#111" stroke-width="2.02" />
<path d="M516.9 158.8 L527.8 158.8 L527.8 162.7" fill="none" stroke="#111" stroke-width="2.02" />
<path d="M527.8 158.8 L530.6 157.1" fill="none" stroke="#111" stroke-width="2.02" />
<path d="M518.8 158.8 L526.6 156.4" fill="none" stroke="#111" stroke-width="3.1" />
<!-- 14_p6a.py -->
<path d="M186.2 271.9 L185.9 283.6 L188.1 284.7 L190.6 283.8 L191.2 271.9" fill="#fff" stroke="#111" stroke-width="1.8" />
<path d="M176.1 264.8 C176.9 266.1 174.5 266.3 178.4 268.8 C182.3 271.2 181 271.1 187.8 272.2 C194.6 273.2 192.5 272.9 198.8 271.9 C205 270.8 204 270 206.6 269.1" fill="none" stroke="#111" stroke-width="1.8" />
<path d="M170.9 231.2 C170 236.2 168.4 242.9 167.5 250 C166.6 257.1 166.2 254.3 167.5 257.8 C168.8 261.4 168.4 260.8 172.2 263.3 C175.9 265.8 175.3 265.7 181.6 267.2 C187.8 268.6 188.5 269 195.6 268.8 C202.7 268.5 202.7 268.9 208.1 266.4 C213.5 263.9 213.2 263.8 215.9 259.4 C218.6 255 217.7 257.3 218.3 250 C218.9 242.7 218.3 236.8 218.3 232" fill="#fff" stroke="#111" stroke-width="1.92" />
<path d="M158.1 220.3 L167.5 217.2 L176.9 221.9 L170.9 226.6 L170.3 237.5 L156.6 234.4Z" fill="#fff" stroke="#111" stroke-width="1.8" />
<path d="M158.1 220.3 L167.5 224.7 L170.9 226.6" fill="none" stroke="#111" stroke-width="1.56" />
<path d="M167.5 224.7 L166.7 236.7" fill="none" stroke="#111" stroke-width="1.56" />
<path d="M161.2 219.5 L162 223.4 L169.8 221.1" fill="none" stroke="#111" stroke-width="1.44" />
<path d="M154.2 234.4 L161.2 235.9 L161.2 242.5 L154.7 240.6Z" fill="#fff" stroke="#111" stroke-width="1.68" />
<path d="M162 236.7 L169.1 238.3 L169.1 245 L162.3 243.4Z" fill="#fff" stroke="#111" stroke-width="1.68" />
<path d="M161.2 235.9 L165.2 234.4 L169.1 235.6" fill="none" stroke="#111" stroke-width="1.44" />
<ellipse cx="194.5" cy="230.6" rx="23.8" ry="8.9" transform="rotate(3 194.5 230.6)" fill="#fff" stroke="#111" stroke-width="2.04"/>
<path d="M170.9 235.2 C173.7 237 172.6 238.8 180 241.4 C187.4 244 186.7 243.5 195.6 243.8 C204.5 244 202.9 244.3 209.7 242.2 C216.5 240.1 215.7 238.4 218.3 236.7" fill="none" stroke="#111" stroke-width="1.56" />
<path d="M172.2 239.1 L173.8 251.6 L181.6 253.9 L183.1 242.2" fill="none" stroke="#111" stroke-width="1.68" />
<path d="M175.3 242.2 L176.1 251.6" fill="none" stroke="#111" stroke-width="1.44" />
<path d="M178.4 243 L179.2 252.3" fill="none" stroke="#111" stroke-width="1.44" />
<path d="M181.6 251.6 L192.5 253.1 L202.7 245.3" fill="none" stroke="#111" stroke-width="1.92" />
<path d="M180.8 254.7 L193.3 256.6 L203.4 248.4" fill="none" stroke="#111" stroke-width="1.68" />
<path d="M202.7 242.2 L203.1 264.1 L206.6 264.8 L206.9 241.4Z" fill="#fff" stroke="#111" stroke-width="1.68" />
<path d="M167.5 245.3 L171.4 243.8" fill="none" stroke="#111" stroke-width="1.56" />
<path d="M211.2 245.3 L219.8 242.2 L224.5 245.3 L224.5 253.1 L215.9 254.7 L211.2 251.6Z" fill="#fff" stroke="#111" stroke-width="1.8" />
<path d="M211.2 245.3 L215.9 248.1 L224.5 245.6" fill="none" stroke="#111" stroke-width="1.44" />
<path d="M215.9 248.1 L215.9 254.7" fill="none" stroke="#111" stroke-width="1.44" />
<path d="M214.4 254.7 L214.4 260.2 L216.7 260.6 L216.9 254.7" fill="none" stroke="#111" stroke-width="1.56" />
<path d="M211.2 241.4 L217.5 239.8 L219.8 242.2" fill="none" stroke="#111" stroke-width="1.56" />
<!-- 15_p7a.py -->
<path d="M308.1 373.2 L310.6 379.2 L316.3 380.7 L315.1 373.9Z" fill="#fff" stroke="#111" stroke-width="1.75" />
<path d="M284.6 344.9 L287.8 343.3 L305.5 342.8 L309.4 340.5 L307.5 336.7 L309.4 334.4 L324.6 333.9 L328.4 330.9 L326.5 327.1 L332.2 324 L348.7 325 L369 329 L377.9 332.6 L382.4 337.3 L381.7 348.1 L381.1 358.2 L377.3 361.4 L374.1 359.5 L374.1 353.2 L369 351.9 L363.9 357 L358.9 361.4 L353.2 362.1 L353.2 350.6 L346.2 348.1 L337.3 346.8 L334.7 349.4 L338.6 352.5 L346.2 354.4 L346.2 357.6 L341.1 358.2 L339.2 362.7 L328.4 370.9 L326.5 376 L323.3 375.4 L322.7 372.8 L300.5 372.8 L282.1 367.1Z" fill="#fff" stroke="#fff" stroke-width="0.62" />
<path d="M284.6 344.9 C285.2 344.6 283.6 343.7 287.8 343.3 C292 342.8 301.2 343.3 305.5 342.8 C309.9 342.2 309 341.7 309.4 340.5 C309.7 339.2 307.5 337.9 307.5 336.7 C307.5 335.4 305.9 334.9 309.4 334.4 C312.8 333.8 320.8 334.6 324.6 333.9 C328.4 333.2 328 332.3 328.4 330.9 C328.8 329.6 325.7 328.5 326.5 327.1 C327.3 325.7 327.8 324.4 332.2 324 C336.6 323.5 341.3 324 348.7 325 C356.1 326 363.2 327.5 369 329 C374.9 330.6 375.2 330.9 377.9 332.6 C380.6 334.2 381.6 334.2 382.4 337.3 C383.1 340.4 382 343.9 381.7 348.1 C381.5 352.3 382 355.6 381.1 358.2 C380.2 360.9 378.7 361.2 377.3 361.4 C375.9 361.7 374.7 361.2 374.1 359.5 C373.5 357.9 374.1 354.4 374.1 353.2" fill="none" stroke="#111" stroke-width="2.12" />
<path d="M374.1 353.2 L369 351.9" fill="none" stroke="#111" stroke-width="2.0" />
<path d="M369 351.9 C367.7 353.2 366.7 354.4 363.9 357 C361.2 359.5 361.7 360.1 358.9 361.4 C356 362.8 354.7 361.9 353.2 362.1" fill="none" stroke="#111" stroke-width="2.12" />
<path d="M353.2 362.1 L353.2 350.6" fill="none" stroke="#111" stroke-width="2.12" />
<path d="M353.2 350.6 C351.5 350 349.9 349 346.2 348.1 C342.5 347.2 340 346.5 337.3 346.8 C334.6 347.1 334.4 348 334.7 349.4 C335 350.7 335.9 351.3 338.6 352.5 C341.2 353.7 344.4 353.2 346.2 354.4 C347.9 355.6 347.4 356.7 346.2 357.6 C345 358.5 342.3 358.1 341.1 358.2" fill="none" stroke="#111" stroke-width="2.12" />
<path d="M341.1 358.2 C340.7 359.1 341.7 360.1 339.2 362.7 C336.6 365.2 330.9 368.3 328.4 370.9 C325.9 373.6 327.5 375.1 326.5 376 C325.5 376.9 324.1 376 323.3 375.4 C322.6 374.7 322.8 373.3 322.7 372.8" fill="none" stroke="#111" stroke-width="2.12" />
<path d="M322.7 372.8 L300.5 372.8 L282.1 367.1 L284.6 344.9" fill="none" stroke="#111" stroke-width="2.12" />
<path d="M284.6 344.9 L301.7 351.9 L325.9 352.5 L344.9 356.3" fill="none" stroke="#111" stroke-width="2.0" />
<path d="M301.7 351.9 L300.5 372.8" fill="none" stroke="#111" stroke-width="1.88" />
<path d="M325.9 352.5 L322.7 372.8" fill="none" stroke="#111" stroke-width="1.88" />
<path d="M307.5 353.8 L306.8 370.9" fill="none" stroke="#777" stroke-width="1.12" stroke-dasharray="4 2.5"/>
<path d="M353.2 350.6 L369 344.3" fill="none" stroke="#111" stroke-width="1.88" />
<path d="M369 344.3 C367 343.6 364.1 343.6 361.4 341.7 C358.7 339.9 358.2 339.5 358.9 337.3 C359.5 335.1 360.6 334.5 363.9 333.5 C367.3 332.5 367.8 333 371.6 333.5 C375.3 334 376.2 334.9 377.9 335.4" fill="none" stroke="#111" stroke-width="2.0" />
<path d="M377.9 335.4 L374.1 353.2" fill="none" stroke="#111" stroke-width="1.75" />
<path d="M374.7 334.1 L370.9 351.9" fill="none" stroke="#666" stroke-width="1.25" stroke-dasharray="4 2.5"/>
<path d="M380.4 340.5 L379.2 358.2" fill="none" stroke="#111" stroke-width="1.5" />
<!-- 16_p25.py -->
<path d="M520.5 236 L545.6 227 C554.2 224 567.9 235 567.5 247.2 C567.1 256 562.5 260.4 558.1 261.9 L526.9 272.6" fill="#fff" stroke="#111" stroke-width="1.6" />
<ellipse cx="523.2" cy="254.3" rx="13.4" ry="18.6" transform="rotate(-9 523.2 254.3)" fill="#fff" stroke="#111" stroke-width="1.5"/>
<path d="M487.8 260.9 L489.3 249.2 L495.6 244.3 L504.9 242.3 L508.3 244.3 L516.1 243.3 L516.6 259.4 L512.2 259.9 L507.3 256 L501 258 L502.9 265.8 L499.5 267.7 L494.2 269.2 L491.7 268.2Z" fill="#fff" stroke="#111" stroke-width="1.7" />
<path d="M495.6 244.3 L504.9 242.3 L508.3 244.3 L516.1 243.3 L516.6 259.4 L512.2 259.9 L507.3 256 L501 258 L498.6 254.1 L499 248.2Z" fill="#1c1c1c" stroke="#111" stroke-width="1.0" />
<path d="M501.7 245.5 L506.2 244.8 L506.4 247.4 L502.1 248.2Z" fill="#fff" stroke="#fff" stroke-width="0.3" />
<path d="M507.8 245.5 L513 245.5 L513 248 L508 247.8Z" fill="#fff" stroke="#fff" stroke-width="0.3" />
<path d="M501 250.6 L505.6 249.7 L506 253.1 L501.5 254.1Z" fill="#fff" stroke="#fff" stroke-width="0.3" />
<path d="M508 250.2 L513 250.6 L513 253.9 L508.1 253.3Z" fill="#fff" stroke="#fff" stroke-width="0.3" />
<path d="M508.3 255.5 L512.2 256 L512.2 258 L509.3 257.5Z" fill="#fff" stroke="#fff" stroke-width="0.3" />
<ellipse cx="492.7" cy="254.3" rx="1.6" ry="2" transform="rotate(0 492.7 254.3)" fill="none" stroke="#111" stroke-width="1.3"/>
<path d="M489.3 259.9 L501 256.5" fill="none" stroke="#111" stroke-width="1.3" />
<path d="M491.7 262.1 L495.6 260.9 L496.8 267.7 L493.4 268.9Z" fill="#fff" stroke="#111" stroke-width="1.4" />
<path d="M497.4 260.9 L500.7 259.7 L502.7 265.8 L499.1 267.2Z" fill="#fff" stroke="#111" stroke-width="1.4" />
<path d="M493.7 263.8 L494.6 268.2" fill="none" stroke="#111" stroke-width="1.6" />
<path d="M499 262.9 L500.2 266.8" fill="none" stroke="#111" stroke-width="1.6" />
<!-- 17_p12.py -->
<path d="M631.2 422.7 L639.8 419.5 L640.6 407.8 L662.5 401.6 L695.3 390.6 L714.1 389.8 L715.6 387.5 L721.9 388.3 L734.4 384.7 L751.6 384.4 L757.8 387.5 L759.4 390.6 L763.3 389.8 L764.4 395.3 L759.7 397.2 L759.4 403.1 L769.5 408.6 L737.5 418.8 L736.7 426.6 L731.2 425.8 L729.7 429.7 L725 433.6 L692.2 443 L679.7 447.7 L660.2 443 L660.2 439.1 L640.6 432.8 L639.1 429.7Z" fill="#fff" stroke="#111" stroke-width="2.41" />
<path d="M640.6 407.8 L671.9 419.5 L689.1 426.6 L717.2 418.8" fill="none" stroke="#111" stroke-width="2.27" />
<path d="M662.5 401.6 L678.1 409.4 L698.4 403.9" fill="none" stroke="#111" stroke-width="2.13" />
<path d="M678.1 409.4 L673.4 412.5 L692.2 421.1 L707.8 416.4" fill="none" stroke="#111" stroke-width="2.13" />
<path d="M695.3 390.6 L698.4 394.5 L706.2 393 L714.1 389.8" fill="none" stroke="#111" stroke-width="1.99" />
<path d="M698.4 394.5 L703.1 399.2 L693.8 405.5" fill="none" stroke="#111" stroke-width="1.99" />
<path d="M703.1 392.2 L706.2 396.9 L712.5 398.4" fill="none" stroke="#111" stroke-width="2.84" />
<path d="M693.8 405.5 L709.4 400.8 L717.2 405.5 L717.2 410.9 L706.2 414.8 L693.8 408.6Z" fill="#fff" stroke="#111" stroke-width="2.27" />
<path d="M693.8 405.5 L705.5 410.2 L717.2 405.5" fill="none" stroke="#111" stroke-width="1.99" />
<path d="M705.5 410.2 L706.2 414.8" fill="none" stroke="#111" stroke-width="1.85" />
<path d="M690.6 403.1 L696.9 401.6 L700 403.9" fill="none" stroke="#111" stroke-width="3.12" />
<path d="M721.9 390.6 L734.4 384.7 L751.6 384.4 L757.8 388.3 L759.4 403.1 L734.4 408.6 L734.4 396.9Z" fill="#fff" stroke="#111" stroke-width="2.27" />
<path d="M721.9 390.6 L734.4 396.9 L757.8 389.1" fill="none" stroke="#111" stroke-width="2.13" />
<path d="M732.8 388.3 L745.3 385.9 L750 389.1 L737.5 391.4Z" fill="none" stroke="#111" stroke-width="1.99" />
<path d="M739.1 389.8 L743.8 388.8" fill="none" stroke="#111" stroke-width="2.84" />
<path d="M719.5 400 L732.8 397.7 L734.4 408.6 L720.3 411.7Z" fill="#fff" stroke="#111" stroke-width="2.56" />
<path d="M722.7 403.1 L731.2 401.6 L732 407 L723.1 409.1Z" fill="none" stroke="#111" stroke-width="1.99" />
<path d="M717.2 398.4 L719.5 400" fill="none" stroke="#111" stroke-width="1.99" />
<path d="M714.1 389.8 L717.2 398.4 L717.2 405.5" fill="none" stroke="#111" stroke-width="1.99" />
<path d="M759.4 405.5 L737.5 413.3 L737.5 418.8" fill="none" stroke="#111" stroke-width="1.99" />
<path d="M689.1 426.6 L690.6 443" fill="none" stroke="#111" stroke-width="2.13" />
<path d="M679.7 432.8 L679.7 447.2" fill="none" stroke="#111" stroke-width="2.13" />
<path d="M660.2 439.1 L679.7 432.8 L689.1 428.9" fill="none" stroke="#111" stroke-width="2.13" />
<path d="M662.5 442.2 L671.9 439.8 L678.1 446.1" fill="none" stroke="#111" stroke-width="1.99" />
<path d="M683.6 433.6 L685.2 443.8 L688.3 443 L687.5 432.5" fill="none" stroke="#111" stroke-width="1.85" />
<path d="M692.2 437.5 L716.4 429.7" fill="none" stroke="#111" stroke-width="1.85" />
<path d="M717.2 418.8 L718.8 433.6" fill="none" stroke="#111" stroke-width="2.13" />
<path d="M707.8 416.4 L718.8 420.3 L737.5 414.8" fill="none" stroke="#111" stroke-width="1.99" />
<path d="M720.3 421.9 L721.1 433.1" fill="none" stroke="#111" stroke-width="1.99" />
<path d="M723.1 420.6 L725 433.1" fill="none" stroke="#111" stroke-width="1.99" />
<path d="M727.3 419.5 L728.4 429.7" fill="none" stroke="#111" stroke-width="1.99" />
<path d="M732.8 418.4 L734.4 425.8" fill="none" stroke="#111" stroke-width="1.99" />
<path d="M712.5 417.2 L725 414.1 L734.4 417.2" fill="none" stroke="#111" stroke-width="2.56" />
<path d="M631.2 422.7 L639.8 419.5 L653.1 422.7 L652.8 427.3 L640.6 430Z" fill="#fff" stroke="#111" stroke-width="2.27" />
<ellipse cx="643.8" cy="423" rx="3.6" ry="2.6" transform="rotate(0 643.8 423)" fill="none" stroke="#111" stroke-width="1.99"/>
<ellipse cx="643.8" cy="423" rx="1.6" ry="1.1" transform="rotate(0 643.8 423)" fill="none" stroke="#111" stroke-width="1.42"/>
<path d="M640.6 430 L640.6 432.8" fill="none" stroke="#111" stroke-width="1.85" />
<path d="M640.6 407.8 L642.2 418.8" fill="none" stroke="#111" stroke-width="1.99" />
<path d="M644.5 410.9 L645.3 418 L651.6 420.3" fill="none" stroke="#111" stroke-width="1.85" />
<path d="M644.5 410.9 L658.6 416.4 L653.1 421.9" fill="none" stroke="#111" stroke-width="1.85" />
<path d="M658.6 416.4 L671.9 419.5" fill="none" stroke="#111" stroke-width="1.7" />
<path d="M664.1 424.2 L676.6 421.9 L682.8 425 L670.3 428.1Z" fill="none" stroke="#111" stroke-width="1.99" />
<!-- 18_p21.py -->
<path d="M746.5 440.3 L746.5 441.7" fill="none" stroke="#111" stroke-width="1.6" />
<path d="M746.5 445 L746.5 445.2" fill="none" stroke="#111" stroke-width="1.4" />
<path d="M746.5 447.9 L746.5 452.9" fill="none" stroke="#111" stroke-width="1.6" />
<path d="M746.5 455.6 L746.5 455.9" fill="none" stroke="#111" stroke-width="1.4" />
<path d="M746.5 459.3 L746.5 464.1" fill="none" stroke="#111" stroke-width="1.8" />
<path d="M743.8 465.2 L745.3 464.1 L748.2 464.1 L749.7 465.2 L749.7 487.9 L743.8 487.9Z" fill="#1a1a1a" stroke="#111" stroke-width="1.2" />
<path d="M745.3 467.4 L748.2 466.5" fill="none" stroke="#eee" stroke-width="0.9" />
<path d="M745.3 470.2 L748.2 469.3" fill="none" stroke="#eee" stroke-width="0.9" />
<path d="M745.3 473 L748.2 472.1" fill="none" stroke="#eee" stroke-width="0.9" />
<path d="M745.3 475.8 L748.2 474.9" fill="none" stroke="#eee" stroke-width="0.9" />
<path d="M745.3 478.6 L748.2 477.7" fill="none" stroke="#eee" stroke-width="0.9" />
<path d="M745.3 481.3 L748.2 480.5" fill="none" stroke="#eee" stroke-width="0.9" />
<path d="M745.3 484.1 L748.2 483.2" fill="none" stroke="#eee" stroke-width="0.9" />
<path d="M745.3 486.9 L748.2 486" fill="none" stroke="#eee" stroke-width="0.9" />
<ellipse cx="746.7" cy="491.4" rx="6.5" ry="4.4" transform="rotate(0 746.7 491.4)" fill="#151515" stroke="#111" stroke-width="1.0"/>
<path d="M743.4 493.1 L749.9 493.1" fill="none" stroke="#ddd" stroke-width="0.8" />
<!-- 19_p7.py -->
<path d="M360.4 417.3 L370.3 411.4 L382 412.6 L397.3 422.5 L393.8 454.8 L386.7 457.7 L375 456.5 L375 430.2Z" fill="#fff" stroke="#111" stroke-width="2.21" />
<path d="M360.4 417.3 L386.7 426.6 L397.3 422.5" fill="none" stroke="#111" stroke-width="2.08" />
<path d="M386.7 426.6 L384.4 457.1" fill="none" stroke="#111" stroke-width="2.08" />
<path d="M360.4 417.3 L360.9 423.1" fill="none" stroke="#111" stroke-width="1.95" />
<path d="M375 430.2 L385 432.5" fill="none" stroke="#111" stroke-width="1.56" />
<ellipse cx="379.7" cy="417.9" rx="3.4" ry="1.6" transform="rotate(15 379.7 417.9)" fill="none" stroke="#111" stroke-width="1.69"/>
<path d="M380.9 411.4 L393.8 406.7 L399.6 406.1 L407.8 412.6 L406.1 420.2 L398.4 425.7 L397.3 422.5 L382 412.6Z" fill="#fff" stroke="#111" stroke-width="1.95" />
<path d="M386.7 412.6 L397.3 408.5 L405.5 413.8" fill="none" stroke="#111" stroke-width="1.69" />
<path d="M389.1 414.3 L399 410.2" fill="none" stroke="#111" stroke-width="1.69" />
<path d="M392.6 416.1 L402 412.3" fill="none" stroke="#111" stroke-width="1.69" />
<path d="M397.3 418.4 L405.5 414.9 L406.1 420.2" fill="none" stroke="#111" stroke-width="2.08" />
<path d="M399.6 422 L404.3 419" fill="none" stroke="#111" stroke-width="2.86" />
<path d="M375 456.5 L375 472.3 L384.4 472.9 L386.7 457.7" fill="#fff" stroke="#111" stroke-width="2.08" />
<path d="M386.7 457.7 L393.8 454.8 L392.6 475.9 L386.1 477 L384.4 472.9" fill="#fff" stroke="#111" stroke-width="1.95" />
<path d="M377.3 460.6 L384.4 460.6" fill="none" stroke="#111" stroke-width="1.56" />
<path d="M384.4 477 L386.1 475.9 L402 480 L409.6 486.4 L405.5 494.6 L400.8 494.6 L386.7 489.9 L383.8 484.1Z" fill="#fff" stroke="#111" stroke-width="1.95" />
<path d="M386.1 476.4 L387.1 490.2" fill="none" stroke="#8a8a8a" stroke-width="0.91" />
<path d="M387.7 476.8 L388.6 490.6" fill="none" stroke="#8a8a8a" stroke-width="0.91" />
<path d="M389.2 477.2 L390.1 491" fill="none" stroke="#8a8a8a" stroke-width="0.91" />
<path d="M390.7 477.5 L391.6 491.4" fill="none" stroke="#8a8a8a" stroke-width="0.91" />
<path d="M392.2 477.9 L393.2 491.8" fill="none" stroke="#8a8a8a" stroke-width="0.91" />
<path d="M393.8 478.2 L394.7 492.2" fill="none" stroke="#8a8a8a" stroke-width="0.91" />
<path d="M395.3 478.6 L396.2 492.6" fill="none" stroke="#8a8a8a" stroke-width="0.91" />
<path d="M396.8 478.9 L397.7 493" fill="none" stroke="#8a8a8a" stroke-width="0.91" />
<path d="M398.3 479.3 L399.3 493.4" fill="none" stroke="#8a8a8a" stroke-width="0.91" />
<ellipse cx="404.1" cy="487.8" rx="5.3" ry="7" transform="rotate(15 404.1 487.8)" fill="#fff" stroke="#111" stroke-width="2.08"/>
<path d="M400.8 481.1 L399 494" fill="none" stroke="#111" stroke-width="1.82" />
<path d="M363.3 487.6 L365.6 485.8 L382 489.7 L389.7 494.6 L385.6 502.2 L380.9 501.9 L363.9 497.2 L361.5 492.9Z" fill="#fff" stroke="#111" stroke-width="1.95" />
<path d="M365.6 486.4 L366.2 497.9" fill="none" stroke="#8a8a8a" stroke-width="0.91" />
<path d="M367.2 486.8 L367.7 498.3" fill="none" stroke="#8a8a8a" stroke-width="0.91" />
<path d="M368.7 487.1 L369.3 498.7" fill="none" stroke="#8a8a8a" stroke-width="0.91" />
<path d="M370.2 487.5 L370.8 499.1" fill="none" stroke="#8a8a8a" stroke-width="0.91" />
<path d="M371.7 487.8 L372.3 499.5" fill="none" stroke="#8a8a8a" stroke-width="0.91" />
<path d="M373.2 488.2 L373.8 499.9" fill="none" stroke="#8a8a8a" stroke-width="0.91" />
<path d="M374.8 488.5 L375.4 500.4" fill="none" stroke="#8a8a8a" stroke-width="0.91" />
<path d="M376.3 488.9 L376.9 500.8" fill="none" stroke="#8a8a8a" stroke-width="0.91" />
<path d="M377.8 489.2 L378.4 501.2" fill="none" stroke="#8a8a8a" stroke-width="0.91" />
<path d="M379.3 489.6 L379.9 501.6" fill="none" stroke="#8a8a8a" stroke-width="0.91" />
<ellipse cx="384.6" cy="496" rx="4.8" ry="6.2" transform="rotate(15 384.6 496)" fill="#fff" stroke="#111" stroke-width="2.08"/>
<path d="M380.9 490.5 L379.5 501.1" fill="none" stroke="#111" stroke-width="1.82" />
<path d="M365.6 467.7 L365.6 488.8 L372.7 485.2 L372.7 466.5" fill="#fff" stroke="#111" stroke-width="2.08" />
<path d="M375 475.9 L375 484.1 L382 485.2 L383.2 475.9" fill="none" stroke="#111" stroke-width="1.69" />
<path d="M376.8 477 L376.8 483.5" fill="none" stroke="#555" stroke-width="1.56" />
<path d="M379.1 477 L379.1 484.1" fill="none" stroke="#555" stroke-width="1.56" />
<ellipse cx="324.4" cy="463" rx="11.6" ry="15.6" transform="rotate(22 324.4 463)" fill="#4a4a4a" stroke="#111" stroke-width="2.08"/>
<path d="M314.1 472.3 L318.2 451.3" fill="none" stroke="#999" stroke-width="0.91" />
<path d="M316.6 471.9 L320.7 451.5" fill="none" stroke="#999" stroke-width="0.91" />
<path d="M319.2 471.4 L323.3 451.7" fill="none" stroke="#999" stroke-width="0.91" />
<path d="M321.8 470.9 L325.9 452" fill="none" stroke="#999" stroke-width="0.91" />
<path d="M324.4 470.5 L328.5 452.2" fill="none" stroke="#999" stroke-width="0.91" />
<path d="M327 470 L331.1 452.4" fill="none" stroke="#999" stroke-width="0.91" />
<path d="M329.5 469.5 L333.6 452.7" fill="none" stroke="#999" stroke-width="0.91" />
<path d="M332.1 469.1 L336.2 452.9" fill="none" stroke="#999" stroke-width="0.91" />
<path d="M334.7 468.6 L338.8 453.1" fill="none" stroke="#999" stroke-width="0.91" />
<path d="M329.3 474.7 L335.2 486.4 L332.8 495.8 L339.8 498.4 L342.4 488.8 L356.3 493.7 L361.5 492.5 L363.3 487.6 L365.6 477 L337.5 460.6Z" fill="#fff" stroke="#111" stroke-width="2.08" />
<path d="M335.2 486.4 L340.4 479.4 L342.4 488.8" fill="none" stroke="#111" stroke-width="1.82" />
<path d="M340.4 479.4 L346.9 477.6" fill="none" stroke="#111" stroke-width="1.69" />
<path d="M346.9 481.7 L356.3 484.1 L360.9 482.3" fill="none" stroke="#444" stroke-width="1.56" />
<path d="M344.5 484.1 L349.2 488.8 L358.6 489.9" fill="none" stroke="#444" stroke-width="1.56" />
<path d="M336.6 462 C336.9 459.5 336.1 458.4 338.7 458.9 C341.2 459.3 342.4 463.1 349.2 464.1 C356 465.2 368 461.6 372.7 464.1 C377.3 466.7 374.1 473.9 372.7 477 C371.3 480.1 370.8 479.5 365.6 479.6 C360.5 479.7 352.6 479.2 346.9 477.6 C341.1 476.1 339 474.9 336.9 471.8 C334.9 468.6 336.2 464.6 336.6 462Z" fill="#fff" stroke="#111" stroke-width="2.21" />
<path d="M336.6 463 C339.7 464.6 338.2 466.5 346.9 468.2 C355.6 470 357.9 469.7 365.6 468.8 C373.4 468 370.5 466.4 372.7 465.3" fill="none" stroke="#111" stroke-width="1.82" />
<path d="M365.6 468.8 L365.6 479.4" fill="none" stroke="#111" stroke-width="1.82" />
<path d="M340.4 424.3 L342.4 423.1 L372.1 423.1 L376.4 430.2 L374.1 458.9 L370.3 463 L349.2 463 L338.9 458.9Z" fill="#fff" stroke="#111" stroke-width="2.34" />
<path d="M342.4 423.1 L346.3 430.7 L376.4 430.2" fill="none" stroke="#111" stroke-width="2.08" />
<path d="M346.3 430.7 L343.6 458.3" fill="none" stroke="#111" stroke-width="2.08" />
<path d="M343.6 458.3 C345.3 459.4 344 460.6 349.2 462 C354.4 463.5 354.6 463.2 360.9 463.2 C367.3 463.2 366.4 463.9 370.3 462 C374.2 460.2 372.8 458.6 373.8 457.1" fill="none" stroke="#111" stroke-width="1.95" />
<path d="M355.1 425.5 L360.9 428.4 L365.6 425.7" fill="none" stroke="#111" stroke-width="2.08" />
<path d="M349.2 432.5 L375 432.3 L375 437.2 L356.3 436 L349.2 434.8" fill="none" stroke="#111" stroke-width="1.82" />
<path d="M350.4 436 L360.9 451.3 L363.3 450.1 L356.3 436" fill="none" stroke="#111" stroke-width="1.95" />
<path d="M358.6 437.2 L372.7 437.8 L372.1 447.7 L360.9 448.3Z" fill="#222" stroke="#111" stroke-width="1.56" />
<path d="M361.5 438.9 L361.9 441.9" fill="none" stroke="#eee" stroke-width="1.56" />
<path d="M364.8 438.9 L365.2 441.9" fill="none" stroke="#eee" stroke-width="1.56" />
<path d="M368.1 438.9 L368.4 441.9" fill="none" stroke="#eee" stroke-width="1.56" />
<path d="M363.3 444.2 L370.3 444.8" fill="none" stroke="#ccc" stroke-width="1.3" />
<path d="M370.3 447.7 L370.9 455.9" fill="none" stroke="#111" stroke-width="1.82" />
<path d="M264.5 451.2 L270.6 439.5 L281.4 443.9 L275.5 457.8Z" fill="#4a4a4a" stroke="#333" stroke-width="1.2" />
<path d="M266 449.5 L271.4 440.5" fill="none" stroke="#bbb" stroke-width="0.6" />
<path d="M268 450.2 L273.4 441.4" fill="none" stroke="#bbb" stroke-width="0.6" />
<path d="M270.1 450.8 L275.5 442.3" fill="none" stroke="#bbb" stroke-width="0.6" />
<path d="M272.1 451.4 L277.5 443.1" fill="none" stroke="#bbb" stroke-width="0.6" />
<path d="M274.2 452.1 L279.6 444" fill="none" stroke="#bbb" stroke-width="0.6" />
<path d="M266.2 448.1 L276.5 453.4" fill="none" stroke="#aaa" stroke-width="0.6" />
<path d="M267.3 446 L277.6 451.4" fill="none" stroke="#aaa" stroke-width="0.6" />
<path d="M268.4 444 L278.6 449.3" fill="none" stroke="#aaa" stroke-width="0.6" />
<path d="M269.5 441.9 L279.7 447.3" fill="none" stroke="#aaa" stroke-width="0.6" />
<ellipse cx="282.3" cy="452.6" rx="6.6" ry="9.6" transform="rotate(27 282.3 452.6)" fill="#fff" stroke="#555" stroke-width="1.2"/>
<ellipse cx="282.6" cy="452.6" rx="5" ry="7.8" transform="rotate(27 282.6 452.6)" fill="#7d7d7d" stroke="#444" stroke-width="0.8"/>
<path d="M279.4 455.4 L284.3 457.3" fill="none" stroke="#ccc" stroke-width="0.6" />
<path d="M280.9 453.4 L285.4 454.9" fill="none" stroke="#ccc" stroke-width="0.6" />
<path d="M282.3 451.5 L286.4 452.5" fill="none" stroke="#ccc" stroke-width="0.6" />
<path d="M283.8 449.5 L287.5 450" fill="none" stroke="#ccc" stroke-width="0.6" />
<path d="M280.4 447.6 L279.4 457.3" fill="none" stroke="#bbb" stroke-width="0.6" />
<path d="M282.1 448.1 L281.4 457.1" fill="none" stroke="#bbb" stroke-width="0.6" />
<path d="M283.8 448.6 L283.3 456.9" fill="none" stroke="#bbb" stroke-width="0.6" />
<!-- 20_p19.py -->
<path d="M483.2 519.9 C482 517.6 483.5 512.2 484.4 509.3 C485.3 506.5 486.6 504.2 488.5 502.9 C490.3 501.6 493 502 495.5 501.7 C498 501.4 502 501.6 503.7 501.1 C505.5 500.6 504.4 499.1 506.1 498.8 C507.7 498.4 511 498.7 513.7 499.1 C516.3 499.5 520.6 499.7 521.9 501.1 C523.2 502.5 522.2 505.7 521.6 507.6 C521 509.4 519.8 511.1 518.4 512.3 C516.9 513.4 514.5 512.9 513.1 514.6 C511.7 516.4 511.2 521.2 510.2 522.8 C509.1 524.5 508.2 523.8 506.6 524.6 C505.1 525.4 502.3 527 500.8 527.5 C499.2 528 498.7 528.2 497.3 527.8 C495.8 527.4 493 526 492 525.2 C491 524.3 492.9 523.7 491.4 522.8 C489.9 521.9 484.4 522.1 483.2 519.9Z" fill="#141414" stroke="#111" stroke-width="1.2" />
<path d="M486.4 509.6 C486.4 508.9 488.6 505.4 489.4 504.6 C490.1 503.9 492.3 503.4 492.3 504.1 C492.3 504.8 490.1 509.2 489.4 509.9 C488.6 510.7 486.4 510.3 486.4 509.6Z" fill="#fff" stroke="#fff" stroke-width="0.2" />
<path d="M491.1 511.4 C491.4 510.4 493.8 505.8 494.6 504.9 C495.4 504 497.2 503.7 497 504.6 C496.7 505.6 493.4 511.1 492.6 512 C491.8 512.9 490.8 512.3 491.1 511.4Z" fill="#fff" stroke="#fff" stroke-width="0.2" />
<path d="M495.2 512.6 C495.4 511.7 498.3 507.6 499.3 506.7 C500.4 505.8 503.3 504.7 503.1 505.5 C502.9 506.4 498.9 512.2 497.9 513.1 C496.8 514.1 495 513.4 495.2 512.6Z" fill="#fff" stroke="#fff" stroke-width="0.2" />
<path d="M500.2 513.4 C500.4 512.6 503.2 508.9 504.3 508.2 C505.4 507.4 507.3 507.4 508.1 507.6 C508.9 507.7 510.9 508.4 510.2 509.3 C509.4 510.3 503.9 514.1 502.5 514.6 C501.2 515.2 500 514.3 500.2 513.4Z" fill="#fff" stroke="#fff" stroke-width="0.2" />
<path d="M484.7 511.4 C485.2 510.5 487.8 510.9 488.2 512 C488.6 513 488.1 518.4 487.6 519.3 C487.1 520.2 484.8 519.8 484.4 518.7 C484 517.7 484.2 512.3 484.7 511.4Z" fill="#fff" stroke="#fff" stroke-width="0.2" />
<path d="M489.6 512.9 C490.1 512 492 512.3 492.3 513.4 C492.6 514.5 492.1 520.2 491.7 521.1 C491.3 522 489.5 521.3 489.2 520.2 C488.9 519.1 489.2 513.7 489.6 512.9Z" fill="#fff" stroke="#fff" stroke-width="0.2" />
<path d="M493.7 515.2 C494.3 514.2 496.6 514.8 497 516.1 C497.3 517.3 496.9 523.6 496.4 524.6 C495.9 525.5 493.5 524.6 493.2 523.4 C492.8 522.1 493.2 516.2 493.7 515.2Z" fill="#fff" stroke="#fff" stroke-width="0.2" />
<path d="M498.4 517 C498.8 515.8 500.5 516 500.8 517.2 C501 518.5 500.5 525.2 500.2 526.3 C499.8 527.5 498.4 527.3 498.1 526 C497.9 524.8 498.1 518.1 498.4 517Z" fill="#fff" stroke="#fff" stroke-width="0.2" />
<path d="M503.7 521.6 C503.6 520.9 504.5 518.3 504.9 517.5 C505.3 516.8 506.4 515.8 506.9 515.8 C507.4 515.8 508.5 516.7 508.7 517.5 C508.9 518.4 508.7 521.2 508.4 521.9 C508 522.7 506.7 523.4 506.1 523.4 C505.4 523.4 503.9 522.4 503.7 521.6Z" fill="#fff" stroke="#fff" stroke-width="0.2" />
<path d="M505.5 500.8 C505.9 500.6 508.9 499.9 509.6 500 C510.2 500 510.5 501.2 510.2 501.4 C509.8 501.7 507.3 502.1 506.6 502 C506 501.9 505.1 501.1 505.5 500.8Z" fill="#fff" stroke="#fff" stroke-width="0.2" />
<path d="M511 502.6 C511.3 502.2 513.7 500.7 514.3 500.5 C514.8 500.4 515.7 500.7 515.4 501.1 C515.1 501.5 512.5 503.3 511.9 503.5 C511.3 503.7 510.7 503 511 502.6Z" fill="#fff" stroke="#fff" stroke-width="0.2" />
<path d="M506.9 504.1 C507.2 503.8 509.2 503.6 509.6 503.8 C509.9 503.9 509.9 505 509.6 505.2 C509.3 505.5 507.6 505.7 507.2 505.5 C506.9 505.4 506.6 504.3 506.9 504.1Z" fill="#fff" stroke="#fff" stroke-width="0.2" />
<path d="M516 504.6 C516.4 504.1 519.5 502.4 520.1 502.3 C520.7 502.2 521.1 503.6 520.7 504.1 C520.3 504.6 517.8 506 517.2 506.1 C516.6 506.2 515.6 505.2 516 504.6Z" fill="#fff" stroke="#fff" stroke-width="0.2" />
<path d="M516 508.2 C516.3 507.6 518.4 506.7 518.7 507 C518.9 507.3 518.4 509.9 518.1 510.5 C517.8 511.1 516.6 511.7 516.3 511.4 C516 511.1 515.7 508.7 516 508.2Z" fill="#fff" stroke="#fff" stroke-width="0.2" />
<path d="M512.8 507 C513 506.7 514 506.5 514.3 506.7 C514.5 506.9 514.5 508.4 514.4 508.7 C514.2 509.1 513.2 509.3 513 509 C512.8 508.8 512.6 507.3 512.8 507Z" fill="#fff" stroke="#fff" stroke-width="0.2" />
<path d="M512.8 511.1 C513 510.7 514.6 510.3 514.8 510.5 C515.1 510.7 515.1 512.2 514.8 512.6 C514.6 512.9 513.4 513.3 513.1 513.1 C512.8 512.9 512.6 511.4 512.8 511.1Z" fill="#fff" stroke="#fff" stroke-width="0.2" />
<path d="M502.5 515.8 C503.4 514.4 503.6 512.9 505.5 511.1 C507.3 509.3 507.7 510.3 508.7 509.9" fill="none" stroke="#333" stroke-width="0.9" />
<path d="M506.6 517.5 L507.1 520.5" fill="none" stroke="#333" stroke-width="0.9" />
<!-- 30_motor.py -->
<path d="M460 632.3 C462.6 632.8 463.5 632.3 468.8 633.8 C474.1 635.3 472.3 634.6 477.6 637.2 C482.9 639.9 483.7 641 486.4 642.6" fill="none" stroke="#111" stroke-width="2.0" />
<path d="M486.4 642.6 L484.4 645 L486.9 648.9 L489.3 651.9 L494.2 650.9" fill="none" stroke="#111" stroke-width="1.62" />
<ellipse cx="490.8" cy="650.1" rx="2.6" ry="1.8" transform="rotate(0 490.8 650.1)" fill="none" stroke="#555" stroke-width="1.12"/>
<path d="M494.2 650.9 C495.6 651.8 496.1 651.2 499.1 653.8 C502 656.5 501.3 656.5 503.9 659.7 C506.6 662.9 506.7 663.1 507.9 664.6" fill="none" stroke="#111" stroke-width="2.0" />
<path d="M487.3 644.1 C490 644.6 491.2 644 496.1 646 C501.1 648.1 499.6 647.4 503.9 650.9 C508.3 654.4 507.6 654.5 510.8 657.7 C514 661 513.5 660.5 514.7 661.6" fill="none" stroke="#111" stroke-width="3.0" />
<path d="M460 636.2 C462.9 637.1 464.8 636.7 469.8 639.2 C474.7 641.7 474.6 642.9 476.6 644.6" fill="none" stroke="#111" stroke-width="1.75" />
<path d="M476.6 644.6 L478.6 646 L484.4 644.1 L486.4 642.6" fill="none" stroke="#111" stroke-width="1.75" />
<path d="M474.6 648 C477 649.7 478.1 649.7 482.5 653.8 C486.9 657.9 484.9 655.8 489.3 661.6 C493.7 667.5 492.7 666 497.1 673.4 C501.5 680.7 500.1 678.4 503.9 686.1 C507.8 693.7 507.5 693.1 509.8 698.8 C512.1 704.4 509.9 698.7 511.8 705 C513.7 711.3 515 710.9 516.2 719.6 C517.3 728.4 516.7 726.1 515.7 734.3 C514.6 742.5 515.4 739.4 512.7 747 C510.1 754.6 511 752.4 506.9 759.7 C502.8 767 504.3 765.5 499.1 771.4 C493.8 777.3 496.3 775.4 489.3 779.2 C482.3 783 484.4 781.5 475.6 784.1 C466.8 786.7 464.7 786.8 460 788" fill="none" stroke="#444" stroke-width="1.12" />
<path d="M477.1 648 C479.4 649.7 480.2 649.4 484.9 653.8 C489.6 658.2 488.3 656.8 492.7 662.6 C497.1 668.5 495.5 666.3 499.6 673.4 C503.6 680.4 502.4 678.4 506.1 686.1 C509.8 693.7 509.5 693.1 511.8 698.8 C514 704.4 512 698.7 513.7 705 C515.5 711.3 516.6 710.9 517.6 719.6 C518.6 728.4 518.2 726.1 517.1 734.3 C516.1 742.5 516.8 739.2 514.2 747 C511.6 754.8 512.6 752.6 508.3 760.2 C504.1 767.8 505.5 766.2 500 772.4 C494.6 778.5 497.3 776.7 490.3 780.7 C483.2 784.6 485.1 783.1 476.6 785.6 C468.1 788.1 466.3 788 462 789" fill="none" stroke="#444" stroke-width="1.12" />
<path d="M518.6 694.4 C519.8 697.5 520.6 697.4 522.5 705 C524.4 712.6 524.6 710.9 524.9 719.6 C525.2 728.4 525.1 725.5 523.5 734.3 C521.9 743.1 522.2 740.7 519.6 748.9 C516.9 757.1 518.5 754.9 514.7 761.6 C510.9 768.4 511.6 767 506.9 771.4 C502.2 775.8 501.4 774.8 499.1 776.3" fill="none" stroke="#111" stroke-width="2.0" />
<path d="M528.4 692.9 C529.5 696.5 530.9 698.4 532.3 705 C533.6 711.6 532.9 708.9 532.8 714.8 C532.6 720.6 532.1 721.6 531.8 724.5" fill="none" stroke="#111" stroke-width="2.0" />
<path d="M531.8 724.5 L537.1 727 L536.2 734.3" fill="none" stroke="#111" stroke-width="2.0" />
<path d="M536.2 734.3 C535 737.8 535.2 739.9 532.3 746 C529.3 752.2 530.5 750.4 526.4 754.8 C522.3 759.2 522.1 758.3 518.6 760.7 C515.1 763 515.9 762 514.7 762.6" fill="none" stroke="#111" stroke-width="2.0" />
<path d="M526.4 709.9 L532.3 707" fill="none" stroke="#111" stroke-width="1.75" />
<path d="M527.4 726 L532.3 724" fill="none" stroke="#111" stroke-width="1.75" />
<path d="M526.4 731.6 L535.4 728.4" fill="none" stroke="#111" stroke-width="1.75" />
<path d="M537.1 734.3 C536.4 736.9 536.5 739.2 534.7 743.1 C532.9 747 532.3 746 531.3 747.2" fill="none" stroke="#555" stroke-width="1.12" />
<path d="M522.5 695.8 L524.6 705" fill="none" stroke="#111" stroke-width="1.62" />
<path d="M532.3 690.9 L531.8 693.9 L533.2 692.9" fill="none" stroke="#444" stroke-width="1.25" />
<path d="M460 788 L474.6 784.1 L487.3 780.2 L491.2 785.1 L494.2 782.1 L493.2 778.2 L498.1 776.3 L500 779.2 L497.1 781.7 L494.2 782.1" fill="none" stroke="#111" stroke-width="1.88" />
<path d="M495.9 778 L497.6 777.5 L498.3 779.2 L496.6 780Z" fill="#333" stroke="#111" stroke-width="1.25" />
<path d="M499.1 775.5 L506.9 771.4" fill="none" stroke="#111" stroke-width="1.75" />
<path d="M506.4 667.5 L527.4 657.7 L535.2 653.8 L542 652.7 L547.9 654.8 L552.3 660.7 L554.2 668.5 L553.3 675.3 L548.9 680.7 L538.1 685.6 L518.6 694.4Z" fill="#fff" stroke="#fff" stroke-width="0.12" />
<path d="M518.6 694.4 L506.4 667.5 L527.4 657.7" fill="none" stroke="#111" stroke-width="2.0" />
<path d="M527.4 657.7 C529.7 656.6 530.8 655.4 535.2 653.8 C539.6 652.3 538.2 652.4 542 652.7 C545.8 652.9 544.8 652.4 547.9 654.8 C551 657.2 550.4 656.6 552.3 660.7 C554.2 664.8 553.9 664.1 554.2 668.5 C554.5 672.9 554.9 671.7 553.3 675.3 C551.7 679 553.4 677.6 548.9 680.7 C544.3 683.8 541.3 684.1 538.1 685.6" fill="none" stroke="#111" stroke-width="2.0" />
<path d="M538.1 685.6 L518.6 694.4" fill="none" stroke="#111" stroke-width="2.0" />
<path d="M528.4 658.2 C530.4 659 531.8 657.6 535.2 660.7 C538.6 663.7 538 663.5 539.6 668.5 C541.2 673.5 541.3 672.2 540.6 677.3 C539.8 682.3 538.2 682.9 537.1 685.3" fill="none" stroke="#111" stroke-width="2.0" />
<ellipse cx="527.4" cy="673.4" rx="6.1" ry="6.7" transform="rotate(0 527.4 673.4)" fill="none" stroke="#888" stroke-width="1.12"/>
<ellipse cx="527.4" cy="673.4" rx="4.1" ry="4.5" transform="rotate(0 527.4 673.4)" fill="none" stroke="#444" stroke-width="1.25"/>
<ellipse cx="527.4" cy="673.4" rx="2" ry="2.2" transform="rotate(0 527.4 673.4)" fill="none" stroke="#333" stroke-width="1.25"/>
<path d="M506.4 667.5 L508.3 664.1 L514.7 661.4" fill="none" stroke="#111" stroke-width="1.75" />
<path d="M462.9 651.4 L469.8 652.9 L486.4 659.7" fill="none" stroke="#111" stroke-width="1.88" />
<path d="M460 671.4 L488.3 661.2" fill="none" stroke="#111" stroke-width="2.0" />
<path d="M460 674.8 L489.3 663.6" fill="none" stroke="#666" stroke-width="1.12" stroke-dasharray="1.2 0.8"/>
<path d="M460 638.2 L470.7 646" fill="none" stroke="#555" stroke-width="1.0" />
<path d="M460 640 L470.7 646.8" fill="none" stroke="#555" stroke-width="1.0" />
<path d="M460 641.7 L470.7 647.6" fill="none" stroke="#555" stroke-width="1.0" />
<path d="M460 643.5 L470.7 648.4" fill="none" stroke="#555" stroke-width="1.0" />
<path d="M460 645.2 L470.7 649.1" fill="none" stroke="#555" stroke-width="1.0" />
<path d="M460 649.4 L463.9 650.9 L468.8 648 L472.7 648" fill="none" stroke="#111" stroke-width="1.75" />
<path d="M473.7 648.5 L474.6 653.8 L482.5 657.7" fill="none" stroke="#111" stroke-width="1.5" />
<path d="M476.1 649.4 L484.4 655.8" fill="none" stroke="#555" stroke-width="1.25" />
<path d="M503 703.8 L510.8 701.7" fill="none" stroke="#111" stroke-width="1.75" />
<path d="M438.1 633.3 C441.1 632.7 441.3 631.8 447.9 631.4 C454.5 630.9 456.4 631.7 460 631.9" fill="none" stroke="#111" stroke-width="2.0" />
<path d="M427.4 637.7 C430.6 637 431.4 636.2 438.1 635.3 C444.9 634.4 443.3 634.5 449.8 634.8 C456.4 635.1 457 635.8 460 636.2" fill="none" stroke="#111" stroke-width="2.0" />
<path d="M413.2 649.4 C416 647.5 416.2 646.2 422.5 643.1 C428.8 640 426.6 640.9 434.2 639.2 C441.8 637.5 440.2 637.8 447.9 637.4 C455.6 637.1 456.4 637.8 460 638" fill="none" stroke="#111" stroke-width="1.88" />
<path d="M437.1 639.2 L460 643.6" fill="none" stroke="#555" stroke-width="1.0" />
<path d="M437.1 640.4 L460 644.9" fill="none" stroke="#555" stroke-width="1.0" />
<path d="M437.1 641.5 L460 646.3" fill="none" stroke="#555" stroke-width="1.0" />
<path d="M433.2 658.2 L460 649.4" fill="none" stroke="#111" stroke-width="2.0" />
<path d="M437.1 661.6 L460 653.8" fill="none" stroke="#111" stroke-width="2.0" />
<path d="M436.2 659.9 L459.6 651.7" fill="none" stroke="#666" stroke-width="1.12" stroke-dasharray="1.2 0.8"/>
<path d="M451.8 674.3 L460 671.4" fill="none" stroke="#111" stroke-width="2.0" />
<path d="M453.8 677.5 L460 674.9" fill="none" stroke="#666" stroke-width="1.12" stroke-dasharray="1.2 0.8"/>
<path d="M434.2 639.2 L457.7 648.9" fill="none" stroke="#111" stroke-width="1.75" />
<path d="M405.9 649.4 L400 643.6 L394.2 634.3 L392.7 626 L395.2 618.7 L401 614.8 L405.9 614.3 L414.7 610.4 L420.5 610.4 L426.4 613.8 L429.3 618.2 L430.3 622.6 L438.1 633.3 L427.4 637.7 L422.5 640.2 L414.7 645Z" fill="#fff" stroke="#fff" stroke-width="0.12" />
<path d="M405.9 649.4 C404.1 647.7 403.6 648.1 400 643.6 C396.5 639 396.4 639.6 394.2 634.3 C392 629 392.4 630.7 392.7 626 C393 621.3 392.7 622 395.2 618.7 C397.6 615.3 397.8 616.1 401 614.8 C404.2 613.4 404.4 614.4 405.9 614.3" fill="none" stroke="#111" stroke-width="2.0" />
<path d="M405.9 614.3 C408.2 613.2 410.8 611.4 414.7 610.4 C418.6 609.3 417.4 609.5 420.5 610.4 C423.7 611.3 424.1 611.7 426.4 613.8 C428.8 615.9 428.3 615.8 429.3 618.2 C430.4 620.5 430.1 621.4 430.3 622.6" fill="none" stroke="#111" stroke-width="2.0" />
<path d="M430.3 622.6 L438.1 633.3" fill="none" stroke="#111" stroke-width="2.0" />
<path d="M405.9 614.3 L412.7 620.6 L427.4 637.7" fill="none" stroke="#111" stroke-width="2.0" />
<path d="M405.9 649.4 C408.5 648.1 409.7 647.8 414.7 645 C419.7 642.3 418.7 642.4 422.5 640.2 C426.3 638 425.9 638.4 427.4 637.7" fill="none" stroke="#111" stroke-width="2.0" />
<path d="M415.7 619.2 L425.4 617.2" fill="none" stroke="#777" stroke-width="1.0" stroke-dasharray="1.5 1"/>
<ellipse cx="427.4" cy="617.2" rx="1.6" ry="2.2" transform="rotate(0 427.4 617.2)" fill="#222" stroke="#111" stroke-width="1.0"/>
<ellipse cx="404.4" cy="629.9" rx="6.1" ry="6.7" transform="rotate(0 404.4 629.9)" fill="none" stroke="#888" stroke-width="1.12"/>
<ellipse cx="404.4" cy="629.9" rx="4.1" ry="4.5" transform="rotate(0 404.4 629.9)" fill="none" stroke="#444" stroke-width="1.25"/>
<ellipse cx="404.4" cy="629.9" rx="2" ry="2.2" transform="rotate(0 404.4 629.9)" fill="none" stroke="#333" stroke-width="1.25"/>
<path d="M392.2 653.8 C395.2 652.9 395.3 651.5 402 650.9 C408.7 650.3 407.1 650.1 414.7 651.9 C422.3 653.6 420.1 652.9 427.4 656.8 C434.7 660.6 432.9 659.6 439.1 664.6 C445.3 669.6 442.9 667.8 447.9 673.4 C452.9 678.9 452.1 678.4 455.7 683.1 C459.3 687.8 456.1 682.4 460 689 C463.9 695.5 465 696.7 468.8 705 C472.6 713.3 470.9 709.1 472.7 716.7 C474.5 724.3 474 722.2 474.8 730.4 C475.7 738.6 475.7 736.2 475.6 744.1 C475.5 752 475.8 749.7 474.5 756.8 C473.1 763.8 472.2 764.3 471.2 767.5" fill="none" stroke="#111" stroke-width="2.0" />
<path d="M393.2 658.2 C396.4 657.6 397.5 656.3 403.9 656.3 C410.4 656.3 407.9 655.7 414.7 658.2 C421.4 660.7 420 660 426.4 664.6 C432.9 669.1 430.9 667.8 436.2 673.4 C441.4 678.9 440.5 678.1 444 683.1 C447.5 688.1 446.7 687.9 447.9 690" fill="none" stroke="#111" stroke-width="2.0" />
<path d="M394.2 659.9 C397.1 659.4 397.8 658.1 403.9 658.4 C410.1 658.7 408.2 658.2 414.7 660.9 C421.1 663.5 419.3 662.5 425.4 667.2 C431.6 671.9 430.2 671.1 435.2 676.5 C440.2 681.9 438.8 680.9 442 685.3 C445.3 689.7 444.8 689.4 445.9 691.1" fill="none" stroke="#111" stroke-width="1.5" />
<path d="M414.7 698.9 L428.4 695.3 L447.9 689.6" fill="none" stroke="#111" stroke-width="2.0" />
<path d="M447.9 689.6 C449.6 694.2 449.9 697 453.8 705 C457.6 713 458.7 712.8 460.9 716.1" fill="none" stroke="#111" stroke-width="2.0" />
<path d="M464.9 723.6 C466.2 726.7 469.5 729.3 469.8 735.3 C470 741.3 467.7 739.5 465.9 746 C464 752.5 464.2 754 462.9 759.7 C461.6 765.4 461.5 765.4 461 767.5" fill="none" stroke="#111" stroke-width="2.0" />
<path d="M460 739.4 L468.8 738.2" fill="none" stroke="#111" stroke-width="3.25" />
<ellipse cx="469.8" cy="771.4" rx="4.1" ry="4.5" transform="rotate(0 469.8 771.4)" fill="none" stroke="#888" stroke-width="1.12"/>
<ellipse cx="469.8" cy="771.4" rx="2.8" ry="3.1" transform="rotate(0 469.8 771.4)" fill="none" stroke="#444" stroke-width="1.25"/>
<ellipse cx="469.8" cy="771.4" rx="1.4" ry="1.5" transform="rotate(0 469.8 771.4)" fill="none" stroke="#333" stroke-width="1.25"/>
<path d="M461.5 767.5 L465.9 766.5 L466.3 773.4 L462.4 775.3Z" fill="#fff" stroke="#111" stroke-width="1.62" />
<path d="M465.9 776.3 L460 787" fill="none" stroke="#111" stroke-width="2.75" />
<path d="M476.6 712.8 L506.9 705" fill="none" stroke="#111" stroke-width="2.0" />
<path d="M475.6 723.6 L514.7 709.9" fill="none" stroke="#111" stroke-width="2.0" />
<path d="M476.6 731.9 L512.7 719.2" fill="none" stroke="#111" stroke-width="2.0" />
<path d="M476.1 737.2 L511.8 724.5" fill="none" stroke="#111" stroke-width="2.0" />
<path d="M476.6 743.1 L512.2 731.4" fill="none" stroke="#111" stroke-width="2.0" />
<path d="M476.1 749.9 L512.7 737.2" fill="none" stroke="#111" stroke-width="2.0" />
<path d="M474.6 759.7 L510.8 747" fill="none" stroke="#111" stroke-width="2.0" />
<path d="M472.7 766.5 L506.9 754.8" fill="none" stroke="#111" stroke-width="2.0" />
<path d="M313.7 670.8 L316.6 674.2 L322.5 675.2 L360 663" fill="none" stroke="#111" stroke-width="2.0" />
<path d="M322.5 676.8 L360 665.1" fill="none" stroke="#555" stroke-width="1.12" />
<path d="M305.4 683.5 L310.8 686.6 L315.7 677.6 L318.6 677.1" fill="none" stroke="#111" stroke-width="2.0" />
<path d="M315.7 677.6 L313.2 672.7" fill="none" stroke="#111" stroke-width="1.75" />
<path d="M310.8 686.9 L345 677.6 L360 671" fill="none" stroke="#111" stroke-width="2.0" />
<path d="M299.1 685.4 L305.9 695.2 L316.6 699.6 L334.2 703" fill="none" stroke="#111" stroke-width="2.0" />
<path d="M336.2 687.4 L345 678.6" fill="none" stroke="#111" stroke-width="2.0" />
<path d="M336.2 687.4 L339.1 690.5 L360 681" fill="none" stroke="#111" stroke-width="2.0" />
<path d="M339.1 690.5 L348.9 706.9 L360 703" fill="none" stroke="#111" stroke-width="2.0" />
<path d="M288.3 688.8 L294.7 687.4 L297.1 686.4" fill="none" stroke="#111" stroke-width="1.88" />
<path d="M288.3 688.8 L292.2 704 L294.2 705.9 L315.7 700.6" fill="none" stroke="#111" stroke-width="2.0" />
<path d="M294.7 687.4 L293.2 698.1 L291.2 698.1 L289.3 689.5Z" fill="#ddd" stroke="#111" stroke-width="1.5" />
<path d="M297.1 686.4 L302 694.2 L292.2 704" fill="none" stroke="#111" stroke-width="1.88" />
<path d="M302 694.2 L306.9 697.1 L315.7 699.6" fill="none" stroke="#111" stroke-width="1.75" />
<path d="M360 663.6 L370.7 659.7 L384.4 655.8 L391.2 652.9" fill="none" stroke="#111" stroke-width="2.0" />
<path d="M391.2 652.9 L392.2 648.9 L396.1 646 L401 645.5 L403 648 L401 650.9 L393.7 653.8Z" fill="#fff" stroke="#111" stroke-width="1.88" />
<path d="M392.2 648.9 L399.1 648 L401 650.9" fill="none" stroke="#111" stroke-width="1.38" />
<path d="M384.9 656.8 L388.8 654.3 L392.7 656.8 L389.3 659.2Z" fill="#fff" stroke="#111" stroke-width="1.75" />
<path d="M360 667.5 L371.7 663.6 L384.9 658.2" fill="none" stroke="#111" stroke-width="2.0" />
<path d="M392.7 659.2 L394.2 659.9" fill="none" stroke="#111" stroke-width="1.5" />
<path d="M360 671.4 C364.1 671.6 365.5 670.1 373.7 671.9 C381.9 673.7 379.1 672.4 387.3 677.3 C395.5 682.1 393.4 681.6 401 688 C408.6 694.5 409.2 695.5 412.7 698.8" fill="none" stroke="#111" stroke-width="2.0" />
<path d="M360 680.7 C362.9 680.8 363.3 679.6 369.8 681.2 C376.2 682.8 374.5 682 381.5 686.1 C388.5 690.2 386.8 689.6 393.2 694.8 C399.6 700.1 400 701 403 703.6" fill="none" stroke="#111" stroke-width="2.0" />
<path d="M360 700.7 C362.9 700.6 363.9 699.3 369.8 700.2 C375.6 701.1 376.6 702.6 379.5 703.6" fill="none" stroke="#111" stroke-width="2.0" />
<path d="M285.4 659.1 C287.9 658 289.8 655.7 294.2 655.2 C298.6 654.6 297.6 654.3 301 657.1 C304.5 659.9 304.4 659.9 306.4 664.9 C308.3 669.9 308.1 669.4 307.9 674.7 C307.6 679.9 307.9 680.7 305.4 683.5 C302.9 686.3 300.9 684.3 299.1 684.6" fill="none" stroke="#111" stroke-width="2.0" />
<path d="M297.1 653.7 C298.9 653.5 299.5 651.9 303 653.2 C306.5 654.5 305.8 654.3 308.8 658.1 C311.9 661.9 311.8 662.1 313.2 665.9 C314.7 669.7 313.6 669.3 313.7 670.8" fill="none" stroke="#111" stroke-width="2.0" />
<path d="M303 655.2 C304.4 657.1 305.1 657 307.9 661.5 C310.6 666 310.9 667.7 312.2 670.3" fill="none" stroke="#111" stroke-width="1.62" />
<ellipse cx="287.3" cy="673.7" rx="11.6" ry="14.8" transform="rotate(-8 287.3 673.7)" fill="#fff" stroke="#111" stroke-width="2.0"/>
<ellipse cx="285.9" cy="674.7" rx="5.1" ry="5.6" transform="rotate(0 285.9 674.7)" fill="none" stroke="#888" stroke-width="1.12"/>
<ellipse cx="285.9" cy="674.7" rx="3.5" ry="3.8" transform="rotate(0 285.9 674.7)" fill="none" stroke="#444" stroke-width="1.25"/>
<ellipse cx="285.9" cy="674.7" rx="1.7" ry="1.8" transform="rotate(0 285.9 674.7)" fill="none" stroke="#333" stroke-width="1.25"/>
<path d="M318.6 702 L345.9 717.7" fill="none" stroke="#111" stroke-width="1.75" />
<path d="M320.5 700.1 L334.2 703 L343 710.8 L346.9 717.7" fill="none" stroke="#111" stroke-width="1.75" />
<path d="M328.4 704 L343 712.8" fill="none" stroke="#888" stroke-width="2.0" />
<path d="M317.6 707 L344 724.5" fill="none" stroke="#111" stroke-width="3.25" />
<path d="M330.3 721.6 L331.3 726 L338.1 727.9" fill="none" stroke="#111" stroke-width="1.88" />
<path d="M322.5 713.8 L328.4 719.6 L331.3 718.7" fill="none" stroke="#666" stroke-width="1.25" />
<path d="M344 724.5 L360 718.7" fill="none" stroke="#111" stroke-width="2.0" />
<path d="M347.9 721.6 L345.9 710.9 L352.8 707.9" fill="none" stroke="#111" stroke-width="1.75" />
<path d="M346.9 707.9 L350.8 709.9 L347.9 710.9" fill="none" stroke="#111" stroke-width="2.25" />
<path d="M352.8 707.9 C353.1 709.7 352.3 710.9 353.8 713.8 C355.2 716.7 356.5 716.5 357.7 717.7" fill="none" stroke="#111" stroke-width="1.88" />
<path d="M349.3 706.8 C351.6 705.7 351.8 704.5 357.1 702.9 C362.4 701.3 361 701.2 366.9 701.5 C372.7 701.8 370.8 701.1 376.6 703.9 C382.5 706.7 381.1 706.1 386.4 710.7 C391.7 715.4 390.7 715.4 394.2 719.5 C397.7 723.6 397 722.9 398.1 724.4" fill="none" stroke="#111" stroke-width="2.0" />
<path d="M354.2 708.8 C356.5 707.8 357 706.2 362 705.4 C367 704.5 365.2 704.2 370.8 705.9 C376.3 707.5 375.3 706.9 380.5 710.7 C385.8 714.6 384.3 713.9 388.4 718.6 C392.5 723.2 392.5 724 394.2 726.4" fill="none" stroke="#111" stroke-width="2.0" />
<path d="M352.2 707.8 L355.2 716.6 L358.1 718.6" fill="none" stroke="#111" stroke-width="1.88" />
<path d="M370.8 705.9 L372.7 712.7 L388.4 725.4" fill="none" stroke="#111" stroke-width="1.75" />
<path d="M355.2 716.6 C357.5 716 357.7 715.8 363 714.6 C368.2 713.5 369.8 713.3 372.7 712.7" fill="none" stroke="#111" stroke-width="1.62" />
<path d="M346.4 709.8 L349.3 707.3" fill="none" stroke="#111" stroke-width="2.75" />
<path d="M343.4 700 L349.3 706.8" fill="none" stroke="#111" stroke-width="2.0" />
<path d="M378.6 713.7 L382.5 711.7" fill="none" stroke="#888" stroke-width="1.0" />
<path d="M381 715.8 L384.9 713.9" fill="none" stroke="#888" stroke-width="1.0" />
<path d="M383.5 718 L387.4 716" fill="none" stroke="#888" stroke-width="1.0" />
<path d="M346.4 727.3 C351.6 724.7 350.3 724.2 356.1 721 C361.9 717.8 361.6 717.4 366.9 716.1 C372.1 714.9 370 715.1 374.7 716.6 C379.4 718.1 379 717.9 383.5 721.5 C387.9 725.1 387.4 724.3 390.3 729.3 C393.2 734.3 392.8 733.5 393.7 739.1 C394.7 744.6 394.7 743.6 393.7 748.8 C392.8 754.1 392.4 753.7 390.3 757.6 C388.2 761.5 394.4 758.9 386.4 762.5 C378.4 766.1 370.6 767.4 362 770.3 C353.4 773.2 361.4 773.3 356.1 772.8 C350.9 772.2 348.1 770.7 343.4 768.4 C338.7 766 342 767.8 339.5 764.5 C337 761.1 336.9 761.6 334.6 756.6 C332.4 751.7 332.3 752.1 331.7 746.9 C331.2 741.6 331 742.8 332.7 738.1 C334.4 733.4 333.7 733.3 337.6 730.3 C341.5 727.2 341.1 730 346.4 727.3Z" fill="#fff" stroke="#fff" stroke-width="0.12" />
<path d="M346.4 727.3 C343.7 728.2 341.7 727.1 337.6 730.3 C333.5 733.5 334.5 733.1 332.7 738.1 C330.9 743.1 331.1 741.3 331.7 746.9 C332.3 752.4 332.3 751.4 334.6 756.6 C337 761.9 336.9 760.9 339.5 764.5 C342.2 768 342.3 767.2 343.4 768.4" fill="none" stroke="#111" stroke-width="2.0" />
<path d="M337.1 732.2 C336.3 735.4 334.5 736.2 334.5 743 C334.4 749.7 334.3 747.7 336.8 754.7 C339.3 761.7 340.9 762.9 342.7 766.4" fill="none" stroke="#444" stroke-width="1.25" />
<path d="M346.4 727.3 C349.1 725.5 350.3 724.2 356.1 721 C361.9 717.8 361.6 717.4 366.9 716.1 C372.1 714.9 370 715.1 374.7 716.6 C379.4 718.1 379 717.9 383.5 721.5 C387.9 725.1 387.4 724.3 390.3 729.3 C393.2 734.3 392.8 733.5 393.7 739.1 C394.7 744.6 394.7 743.6 393.7 748.8 C392.8 754.1 392.4 753.7 390.3 757.6 C388.2 761.5 387.5 761.1 386.4 762.5" fill="none" stroke="#111" stroke-width="2.0" />
<path d="M386.4 762.5 L362 770.3 L356.1 772.8" fill="none" stroke="#111" stroke-width="2.0" />
<path d="M355.6 773 L361 771.3" fill="none" stroke="#111" stroke-width="3.0" />
<path d="M343.4 768.4 L354.2 762.5" fill="none" stroke="#111" stroke-width="2.0" />
<ellipse cx="357.6" cy="748.3" rx="9.9" ry="19.6" transform="rotate(-16 357.6 748.3)" fill="#fff" stroke="#111" stroke-width="2.0"/>
<path d="M353.7 734.2 C353 737.1 350.9 738.2 351.4 743.9 C351.9 749.7 354.2 750.4 355.4 753.2" fill="none" stroke="#777" stroke-width="1.25" />
<path d="M356.9 733.7 C356.3 736.8 354.4 738 355 743.9 C355.5 749.9 357.6 750.6 358.7 753.5" fill="none" stroke="#999" stroke-width="1.25" />
<path d="M360.2 735.9 C359.8 738.3 358.4 739.4 358.9 743.9 C359.3 748.5 360.9 749 361.8 751.2" fill="none" stroke="#888" stroke-width="1.25" />
<path d="M363.2 738.9 C362.9 740.6 362.1 741.7 362.4 744.7 C362.7 747.8 363.6 747.7 364.1 749" fill="none" stroke="#999" stroke-width="1.25" />
<path d="M357.1 758.6 L359.1 755.9 L366.7 757.1" fill="none" stroke="#111" stroke-width="1.62" />
<path d="M380.5 736.1 L401.1 727.8" fill="none" stroke="#111" stroke-width="3.25" />
<path d="M388.4 728.3 L400.1 723.4" fill="none" stroke="#111" stroke-width="1.38" />
<path d="M393.7 735.2 C394.6 734.9 396 732.6 397.1 734.2 C398.3 735.7 398.1 736.1 398.1 741 C398.1 746 398.5 747 397.1 752.7 C395.8 758.5 395.1 759.6 393.2 762.5 C391.4 765.4 391.1 763.2 390.3 763.5" fill="none" stroke="#111" stroke-width="2.0" />
<path d="M397.1 734.2 L403 729.3" fill="none" stroke="#111" stroke-width="2.0" />
<path d="M390.3 763.5 L403 789.8 L401.1 790.8 L387.4 764.5" fill="none" stroke="#111" stroke-width="2.0" />
<path d="M378.6 767.4 L397.1 793.8" fill="none" stroke="#111" stroke-width="1.75" />
<path d="M325.4 750.8 L329.8 746.9 L331.7 751.8" fill="none" stroke="#111" stroke-width="1.88" />
<path d="M325.4 750.8 C326.7 754.6 326.1 755.6 329.8 763.5 C333.4 771.4 332.3 769.8 337.6 777.1 C342.9 784.5 340.9 781.7 347.3 787.9 C353.8 794 354.4 794 359.1 797.7 C363.8 801.3 358.3 798.2 363 800 C367.6 801.8 363.8 802.8 374.6 803.6 C385.5 804.4 387.1 804.1 399.1 802.7 C411.1 801.2 405.9 802.3 414.7 798.8 C423.5 795.2 419.9 795.6 428.4 790.9 C436.9 786.2 435.4 788.4 443 783.1 C450.6 777.9 449.6 778.9 453.8 773.4 C457.9 767.8 455.8 767.2 456.7 764.6" fill="none" stroke="#111" stroke-width="2.0" />
<path d="M327.8 752.7 C329.3 756.2 328.9 757.1 332.7 764.5 C336.5 771.8 335.2 770.1 340.5 777.1 C345.8 784.2 344.1 782 350.3 787.9 C356.4 793.8 355.2 793.7 361 796.7 C366.9 799.6 362.7 797.2 369.8 797.8 C376.8 798.4 376.2 798.8 384.4 798.8 C392.6 798.8 393.3 798.1 397.1 797.8" fill="none" stroke="#111" stroke-width="2.0" />
<path d="M330.3 753.2 C331.6 756.3 331.4 757.8 334.6 763.5 C337.9 769.2 339.1 769.6 341 772.3" fill="none" stroke="#111" stroke-width="1.5" />
<path d="M343.4 768.4 L340.5 772.3 L344.4 778.1" fill="none" stroke="#111" stroke-width="1.88" />
<path d="M344.4 778.1 C346.5 780.5 346.3 781.5 351.2 785.9 C356.2 790.3 354 789.3 361 792.8 C368 796.3 366.5 795.9 374.7 797.7 C382.9 799.4 381.9 798.9 388.4 798.6 C394.8 798.3 393.8 797.3 396.2 796.7" fill="none" stroke="#111" stroke-width="1.88" />
<path d="M356.1 772.8 C359.4 772 360.7 770.8 366.9 770.3 C373 769.9 370.8 769.2 376.6 771.3 C382.5 773.3 381.4 772.8 386.4 777.1 C391.4 781.5 390 780.7 393.2 785.9 C396.5 791.2 396 792.1 397.1 794.7" fill="none" stroke="#111" stroke-width="2.0" />
<path d="M378.6 771.8 C381.2 774 383.3 774.3 387.4 779.1 C391.5 783.9 390.8 785.3 392.3 787.9" fill="none" stroke="#666" stroke-width="1.25" />
<path d="M397.1 797.8 C399.7 796.3 401.2 796.7 405.9 792.9 C410.6 789.1 410.7 787.4 412.7 785.1" fill="none" stroke="#111" stroke-width="2.0" />
<path d="M414.7 798.8 C416.4 797 417.6 797.3 420.5 792.9 C423.5 788.5 423.3 786.7 424.5 784.1" fill="none" stroke="#111" stroke-width="2.0" />
<path d="M412.7 802.7 C417.4 801.5 419.3 801.7 428.4 798.8 C437.4 795.8 434.8 797.6 443 792.9 C451.2 788.2 450.6 787.8 455.7 783.1 C460.8 778.4 458.7 779 460 777.3" fill="none" stroke="#111" stroke-width="2.0" />
<ellipse cx="449.8" cy="796.8" rx="4.6" ry="2.6" transform="rotate(-20 449.8 796.8)" fill="none" stroke="#555" stroke-width="1.25"/>
<path d="M396.1 762.6 L403 778.2 L422.5 772.4" fill="none" stroke="#111" stroke-width="2.0" />
<path d="M403 778.2 C406.5 779.4 407.1 781 414.7 782.1 C422.3 783.3 421.3 782.7 428.4 782.1 C435.4 781.6 435.2 780.8 438.1 780.2" fill="none" stroke="#111" stroke-width="2.0" />
<path d="M397.1 758.2 L403 755.8" fill="none" stroke="#111" stroke-width="1.75" />
<path d="M403 742.1 L441.1 767.5 L438.1 779.2 L399.1 750.9 L399.1 744.1Z" fill="#fff" stroke="#111" stroke-width="2.0" />
<path d="M401 746 L439.1 772.4" fill="none" stroke="#111" stroke-width="2.5" />
<path d="M438.1 779.2 L441.1 767.5 L456.7 763.6 L451.8 775.3Z" fill="#fff" stroke="#111" stroke-width="2.0" />
<path d="M441.5 769.5 L455.2 766" fill="none" stroke="#111" stroke-width="1.5" />
<path d="M441.5 772.4 L454 769" fill="none" stroke="#111" stroke-width="1.5" />
<path d="M441.5 775.3 L452.9 771.9" fill="none" stroke="#111" stroke-width="1.5" />
<path d="M427.4 755.8 L436.2 751.9 L445.9 753.8 L451.8 759.7 L456.2 764.1" fill="none" stroke="#111" stroke-width="1.88" />
<path d="M427.4 755.8 L434.2 760.7 L441.1 767.5" fill="none" stroke="#111" stroke-width="1.5" />
<path d="M434.2 760.7 L447.9 756.8" fill="none" stroke="#111" stroke-width="1.5" />
<path d="M401 741.1 L410.8 737.2 L418.6 747" fill="none" stroke="#111" stroke-width="1.88" />
<path d="M410.8 737.2 L414.7 734.3" fill="none" stroke="#111" stroke-width="1.62" />
<path d="M412.7 732.3 L418.6 748 L426.4 729.4" fill="none" stroke="#111" stroke-width="2.0" />
<path d="M414.7 734.3 L419.6 746 L422.5 734.3Z" fill="#ddd" stroke="#888" stroke-width="1.0" />
<path d="M418.6 748 L428.4 748.9 L460 739.2" fill="none" stroke="#111" stroke-width="2.0" />
<path d="M422.5 728.4 L460 717.7" fill="none" stroke="#111" stroke-width="2.0" />
<path d="M420.5 737.2 L460 725" fill="none" stroke="#111" stroke-width="2.0" />
<path d="M399.1 737.2 L410.8 733.3" fill="none" stroke="#111" stroke-width="2.0" />
<path d="M453.8 742.1 L455.7 744.1 L455.2 763.6" fill="none" stroke="#111" stroke-width="1.88" />
<ellipse cx="457.7" cy="747" rx="2.4" ry="2.8" transform="rotate(0 457.7 747)" fill="none" stroke="#111" stroke-width="1.5"/>
<path d="M441.1 748.9 L445.9 746 L453.8 744.1" fill="none" stroke="#111" stroke-width="1.62" />
<path d="M432.3 750.9 L438.1 748" fill="none" stroke="#111" stroke-width="1.62" />
<path d="M399.6 716.7 L403 707.9 L408.8 705 L428.4 705 L434.2 710.9 L436.2 717.7 L432.3 723.6 L420.5 729.4 L412.7 730.9 L403.9 727.5Z" fill="#fff" stroke="#fff" stroke-width="0.12" />
<path d="M428.4 705 C430.1 706.8 431.9 707.1 434.2 710.9 C436.6 714.7 436.8 713.9 436.2 717.7 C435.6 721.5 433.4 721.8 432.3 723.6" fill="none" stroke="#111" stroke-width="2.0" />
<path d="M412.7 730.9 L420.5 729.4 L432.3 723.6" fill="none" stroke="#111" stroke-width="2.0" />
<ellipse cx="410.8" cy="717.7" rx="11.2" ry="13.8" transform="rotate(-8 410.8 717.7)" fill="#fff" stroke="#111" stroke-width="2.0"/>
<ellipse cx="409.8" cy="717.2" rx="6.1" ry="6.7" transform="rotate(0 409.8 717.2)" fill="none" stroke="#888" stroke-width="1.12"/>
<ellipse cx="409.8" cy="717.2" rx="4.1" ry="4.5" transform="rotate(0 409.8 717.2)" fill="none" stroke="#444" stroke-width="1.25"/>
<ellipse cx="409.8" cy="717.2" rx="2" ry="2.2" transform="rotate(0 409.8 717.2)" fill="none" stroke="#333" stroke-width="1.25"/>
<path d="M427.4 705 C428.6 706.8 429.7 707.1 431.3 710.9 C432.9 714.7 433.2 713.7 432.8 717.7 C432.3 721.7 430.7 722.1 429.8 724" fill="none" stroke="#555" stroke-width="1.25" />
<path d="M403 703.6 C405.3 702.9 406.1 702.9 410.8 701.2 C415.5 699.4 413.9 698.5 418.6 697.8 C423.3 697 422.3 697.3 426.4 698.8 C430.5 700.2 430.5 701.5 432.3 702.7" fill="none" stroke="#111" stroke-width="2.0" />
<path d="M420.5 697.3 C422.3 698.2 423.5 697.9 426.4 700.2 C429.3 702.5 429.1 703.6 430.3 705" fill="none" stroke="#555" stroke-width="1.25" />
<path d="M460 717.7 L474.6 713.3 L477.1 713.8 L477.6 715.7 L475.6 717.2 L460 722.6" fill="#fff" stroke="#111" stroke-width="2.0" />
<!-- 31_p15.py -->
<path d="M582.5 655 L581 651.4 L620.3 633.8 L622.8 639.8Z" fill="#fff" stroke="#555" stroke-width="1.0" />
<path d="M581.5 650.9 L584.6 654.4" fill="none" stroke="#222" stroke-width="1.4" />
<path d="M584.1 649.8 L587.3 653.3" fill="none" stroke="#222" stroke-width="1.4" />
<path d="M586.8 648.6 L590 652.3" fill="none" stroke="#222" stroke-width="1.4" />
<path d="M589.4 647.5 L592.7 651.3" fill="none" stroke="#222" stroke-width="1.4" />
<path d="M592 646.3 L595.3 650.3" fill="none" stroke="#222" stroke-width="1.4" />
<path d="M594.6 645.1 L598 649.3" fill="none" stroke="#222" stroke-width="1.4" />
<path d="M597.3 644 L600.7 648.2" fill="none" stroke="#222" stroke-width="1.4" />
<path d="M599.9 642.8 L603.4 647.2" fill="none" stroke="#222" stroke-width="1.4" />
<path d="M602.5 641.6 L606.1 646.2" fill="none" stroke="#222" stroke-width="1.4" />
<path d="M605.1 640.5 L608.8 645.2" fill="none" stroke="#222" stroke-width="1.4" />
<path d="M607.8 639.3 L611.4 644.1" fill="none" stroke="#222" stroke-width="1.4" />
<path d="M610.4 638.1 L614.1 643.1" fill="none" stroke="#222" stroke-width="1.4" />
<path d="M613 637 L616.8 642.1" fill="none" stroke="#222" stroke-width="1.4" />
<path d="M615.7 635.8 L619.5 641.1" fill="none" stroke="#222" stroke-width="1.4" />
<path d="M618.3 634.6 L622.2 640" fill="none" stroke="#222" stroke-width="1.4" />
<ellipse cx="625.1" cy="636" rx="5.1" ry="7.2" transform="rotate(-10 625.1 636)" fill="#fff" stroke="#111" stroke-width="1.6"/>
<ellipse cx="625.9" cy="635.7" rx="3" ry="5" transform="rotate(-10 625.9 635.7)" fill="none" stroke="#555" stroke-width="1.0"/>
<path d="M620 631.7 L621.6 629.4" fill="none" stroke="#111" stroke-width="1.4" />
<path d="M620.8 642.3 C621.7 642.5 622 643.4 623.9 643 C625.8 642.7 626.1 641.7 627 641.1" fill="none" stroke="#111" stroke-width="2.0" />
<!-- 32_p26.py -->
<path d="M755.8 639.1 L758.1 687.5 L771.4 694.5 L780 685.9 L780 637.5Z" fill="#fff" stroke="#111" stroke-width="1.72" />
<path d="M775.3 646.9 L775.3 689.4" fill="none" stroke="#111" stroke-width="1.49" />
<path d="M771.4 694.5 L775.3 689.4" fill="none" stroke="#111" stroke-width="1.38" />
<ellipse cx="766.2" cy="658.6" rx="3" ry="3.8" transform="rotate(-20 766.2 658.6)" fill="none" stroke="#111" stroke-width="1.61"/>
<ellipse cx="766.9" cy="658.9" rx="1.6" ry="2.2" transform="rotate(-20 766.9 658.9)" fill="none" stroke="#111" stroke-width="1.15"/>
<ellipse cx="766.7" cy="684.4" rx="3.4" ry="3.8" transform="rotate(-20 766.7 684.4)" fill="none" stroke="#111" stroke-width="1.61"/>
<ellipse cx="767.2" cy="684.7" rx="1.8" ry="2.2" transform="rotate(-20 767.2 684.7)" fill="none" stroke="#111" stroke-width="1.15"/>
<path d="M748.8 575 L753.4 573.4 L753.4 565.6 L758.9 562.5 L759.7 554.7 L763.6 552.3 L767.5 556.2 L769.1 564.1 L768.8 568.8 L774.5 577.3 L776.1 587.5 L780 586.7 L784.7 583.6 L788.6 587.5 L789.4 596.9 L787 601.6 L786.2 629.7 L776.9 634.4 L750.3 619.5Z" fill="#fff" stroke="#111" stroke-width="1.72" />
<path d="M776.1 587.5 L776.9 604.7 L776.9 634.4" fill="none" stroke="#111" stroke-width="1.61" />
<path d="M776.9 604.7 L787 601.6" fill="none" stroke="#111" stroke-width="1.49" />
<ellipse cx="763.6" cy="567.2" rx="2.4" ry="3" transform="rotate(0 763.6 567.2)" fill="none" stroke="#111" stroke-width="1.49"/>
<path d="M758.9 562.5 L761.2 560.9 L766.7 561.7 L768.8 568.8" fill="none" stroke="#111" stroke-width="1.38" />
<path d="M748.8 575 L749.5 581.2 L751.1 580.5" fill="none" stroke="#111" stroke-width="1.38" />
<path d="M751.1 592.2 L753.4 593" fill="none" stroke="#111" stroke-width="1.38" />
<path d="M755.8 617.2 L756.2 621.1 L758.1 620.3" fill="none" stroke="#111" stroke-width="1.49" />
<path d="M771.4 626.6 L771.9 630.5" fill="none" stroke="#111" stroke-width="1.49" />
<path d="M776.9 590.9 L786.2 587.2" fill="none" stroke="#111" stroke-width="2.07" />
<path d="M777.2 595 L786.9 591.2" fill="none" stroke="#111" stroke-width="2.07" />
<path d="M777.5 599.1 L787.5 595.3" fill="none" stroke="#111" stroke-width="2.07" />
<path d="M780 586.7 L780.8 596.9" fill="none" stroke="#111" stroke-width="1.38" />
<path d="M784.7 583.6 L785.5 595.3" fill="none" stroke="#111" stroke-width="1.38" />
<path d="M783.1 623.4 L785.5 622.2 L785.6 626.6 L783.4 627.7Z" fill="none" stroke="#111" stroke-width="1.15" />
<path d="M750.3 621.9 L753.4 621.1 L776.9 633.6 L780 637.5 L776.9 643.8 L769.1 647.2 L750.3 637.8Z" fill="#fff" stroke="#111" stroke-width="1.72" />
<path d="M753.4 623.4 L769.8 632.5 L769.1 645.6" fill="none" stroke="#111" stroke-width="1.61" />
<path d="M753.4 623.4 L753.1 637.5" fill="none" stroke="#111" stroke-width="1.38" />
<path d="M769.8 632.5 L776.9 634.4" fill="none" stroke="#111" stroke-width="1.38" />
<path d="M772.2 637.5 L772.5 643.8" fill="none" stroke="#111" stroke-width="1.84" />
<path d="M762 645.3 L762.8 650 L769.1 652.3 L769.8 647.7" fill="none" stroke="#111" stroke-width="1.49" />
<!-- 33_p13_10.py -->
<path d="M791.6 744.2 L799.6 741.6 L834.7 752.6 L835.1 761.4 L833.4 760.5 L828.6 759.6Z" fill="#fff" stroke="#111" stroke-width="1.7" />
<path d="M825.9 756.1 L833.8 753.9" fill="none" stroke="#555" stroke-width="0.9" />
<path d="M768.8 755.2 L769.2 749.9 L772.3 745.1 L777.6 743.1 L782.9 743.8 L828.6 759.6 L833.8 764 L835.8 770.2 L834.7 775.4 L831.2 778.9 L825.9 780.3 L819.8 778.9 L814.5 777.2Z" fill="#fff" stroke="#fff" stroke-width="0.1" />
<path d="M768.8 755.2 C768.9 753.6 768.2 753 769.2 749.9 C770.3 746.9 769.8 747.2 772.3 745.1 C774.8 743.1 774.4 743.5 777.6 743.1 C780.7 742.7 781.3 743.6 782.9 743.8" fill="none" stroke="#111" stroke-width="1.7" />
<path d="M782.9 743.8 L828.6 759.6" fill="none" stroke="#111" stroke-width="1.7" />
<path d="M828.6 759.6 C830.1 760.9 831.7 760.8 833.8 764 C836 767.2 835.5 766.7 835.8 770.2 C836 773.6 836.1 772.8 834.7 775.4 C833.3 778.1 833.8 777.5 831.2 778.9 C828.6 780.4 829.3 780.3 825.9 780.3 C822.5 780.3 823.2 779.9 819.8 778.9 C816.3 778 816.1 777.7 814.5 777.2" fill="none" stroke="#111" stroke-width="1.7" />
<path d="M776.7 745.5 L782 746.4" fill="none" stroke="#111" stroke-width="1.0" />
<path d="M782 746.4 L826.8 762.2" fill="none" stroke="#111" stroke-width="1.0" />
<path d="M826.8 762.2 C828 763.6 829.2 763.7 830.8 766.6 C832.3 769.5 831.8 769 832.1 771.9 C832.3 774.8 831.8 775 831.6 776.3" fill="none" stroke="#111" stroke-width="1.0" />
<path d="M774.1 763.1 L803.1 772.4" fill="none" stroke="#111" stroke-width="1.6" />
<path d="M783.6 755.8 L643.3 805.6 A4.4 4.4 0 0 0 645.5 814.2 L737 785.4 A3.9 3.9 0 0 1 738.1 793.2 L671.5 815.9 A4.3 4.3 0 0 0 674 824.1 L821.2 770.2" fill="none" stroke="#151515" stroke-width="4.6" />
<path d="M783.6 755.8 L643.3 805.6 A4.4 4.4 0 0 0 645.5 814.2 L737 785.4 A3.9 3.9 0 0 1 738.1 793.2 L671.5 815.9 A4.3 4.3 0 0 0 674 824.1 L821.2 770.2" fill="none" stroke="#fff" stroke-width="1.5" />
<path d="M792.2 837.9 L804.7 830.5 L809.4 832.8 L810.2 835.9 L814.1 835.2 L818.8 839.1 L818.8 850.8 L806.2 858.6 L800.8 855.5 L793.8 843Z" fill="#fff" stroke="#111" stroke-width="1.95" />
<path d="M806.2 845.3 L818.8 839.1" fill="none" stroke="#111" stroke-width="1.72" />
<path d="M806.2 845.3 L806.2 858.6" fill="none" stroke="#111" stroke-width="1.72" />
<path d="M793.8 840.6 L806.2 845.3" fill="none" stroke="#111" stroke-width="1.61" />
<path d="M796.9 836.7 L804.7 832.4" fill="none" stroke="#111" stroke-width="2.3" />
<path d="M800 839.5 L807.8 835.2" fill="none" stroke="#111" stroke-width="2.3" />
<path d="M804.7 842.3 L814.8 836.7" fill="none" stroke="#111" stroke-width="2.3" />
<path d="M792.2 837.9 L792.6 842.6 L796.9 848.4" fill="none" stroke="#111" stroke-width="2.76" />
<path d="M796.1 840.6 C797.5 841.6 798.7 841.2 800.8 843.8 C802.9 846.3 802.9 846.1 803.1 849.2 C803.4 852.3 802 852.6 801.6 854.1" fill="none" stroke="#111" stroke-width="1.72" />
<path d="M800 841.4 C801.4 842.6 802.8 842.5 804.7 845.3 C806.6 848.1 806.2 847.5 806.2 850.8 C806.2 854.1 805.2 854.7 804.7 856.4" fill="none" stroke="#111" stroke-width="1.72" />
<path d="M759.8 861.3 L795.3 842.6 L800 853.9 L764.8 873Z" fill="#fff" stroke="#fff" stroke-width="0.11" />
<path d="M759.8 861.3 L795.3 842.6" fill="none" stroke="#111" stroke-width="1.95" />
<path d="M764.8 873 L800 853.9" fill="none" stroke="#111" stroke-width="1.95" />
<ellipse cx="761.7" cy="867.2" rx="4" ry="6.3" transform="rotate(-22 761.7 867.2)" fill="#fff" stroke="#111" stroke-width="1.95"/>
<!-- 34_p16.py -->
<path d="M463.8 872.4 L464.4 876.5 L493.7 886.7 L494.3 880.6Z" fill="#fff" stroke="#111" stroke-width="1.92" />
<path d="M485.5 888.6 L492.5 890.9 L492.5 893.8 L486.1 891.4Z" fill="#fff" stroke="#111" stroke-width="1.68" />
<path d="M490.2 875.4 L497.2 877.1 L497 880.6 L490.7 879.2Z" fill="#fff" stroke="#111" stroke-width="1.68" />
<path d="M465 835.9 L475.5 832.6 L474.9 826.1 L478.4 823.8 L493.7 824.4 L504.2 828.5 L521.8 833.8 L541.7 836.7 L541.1 861.9 L537 863.3 L504.2 875.9 L501.9 873.6 L493.7 875.9 L464.4 866.6Z" fill="#fff" stroke="#111" stroke-width="2.16" />
<path d="M465 835.9 L500.7 845.7 L541.7 836.7" fill="none" stroke="#111" stroke-width="1.92" />
<path d="M500.7 845.7 L501.9 873.6" fill="none" stroke="#111" stroke-width="2.04" />
<path d="M464.4 866.6 L493.7 875.9" fill="none" stroke="#111" stroke-width="1.8" />
<path d="M464.4 870.1 L494.3 880.6" fill="none" stroke="#111" stroke-width="1.68" />
<path d="M475.5 832.6 L480.2 833.8 L479.6 826.7 L478.4 823.8" fill="none" stroke="#111" stroke-width="1.68" />
<path d="M480.2 833.8 L493.7 829.6 L493.7 824.4" fill="none" stroke="#111" stroke-width="1.68" />
<path d="M481.4 827.9 L492.5 825.5 L499.5 827.3 L490.2 830.8Z" fill="none" stroke="#111" stroke-width="1.56" />
<path d="M486.6 837.3 L490.2 831.4 L501.9 827.9 L521.8 833.8 L508.9 841.4Z" fill="#1b1b1b" stroke="#111" stroke-width="1.44" />
<path d="M489 832.6 L487.8 837.5" fill="none" stroke="#ddd" stroke-width="0.96" />
<path d="M491 833.2 L489.8 838.1" fill="none" stroke="#ddd" stroke-width="0.96" />
<path d="M493 833.8 L491.8 838.7" fill="none" stroke="#ddd" stroke-width="0.96" />
<path d="M495 834.3 L493.8 839.3" fill="none" stroke="#ddd" stroke-width="0.96" />
<path d="M497 834.9 L495.8 839.8" fill="none" stroke="#ddd" stroke-width="0.96" />
<path d="M498.9 835.5 L497.8 840.4" fill="none" stroke="#ddd" stroke-width="0.96" />
<path d="M500.9 836.1 L499.8 841" fill="none" stroke="#ddd" stroke-width="0.96" />
<path d="M502.9 836.7 L501.8 841.6" fill="none" stroke="#ddd" stroke-width="0.96" />
<path d="M504.9 837.3 L503.8 842.2" fill="none" stroke="#ddd" stroke-width="0.96" />
<path d="M508.3 837.9 L520.6 834.9 L527.7 836.7 L513.6 841Z" fill="#fff" stroke="#111" stroke-width="1.44" />
<path d="M510.1 842.5 L530 837.9" fill="none" stroke="#111" stroke-width="2.4" />
<path d="M484.3 856 L500.1 859.8 L502.5 861.9 L502.5 873.6 L485.7 869.8Z" fill="#fff" stroke="#111" stroke-width="2.16" />
<path d="M484.3 856 L485.5 870.1 L490.2 871.3 L489.9 858.6Z" fill="#222" stroke="#111" stroke-width="1.2" />
<path d="M487.2 859.5 L490.2 860.1 L490.2 868.3 L487.6 867.7Z" fill="#fff" stroke="#111" stroke-width="0.6" />
<path d="M492.5 861.3 L492.5 871.3" fill="none" stroke="#111" stroke-width="1.8" />
<path d="M506.6 849 L537 842.5 L537.6 853.7 L507.2 861.3Z" fill="#1b1b1b" stroke="#111" stroke-width="1.2" />
<path d="M509.1 850.2 L509.5 857.4" fill="none" stroke="#fff" stroke-width="1.56" />
<path d="M513.1 849.3 L513.5 856.5" fill="none" stroke="#fff" stroke-width="1.56" />
<path d="M517.1 848.4 L517.5 855.6" fill="none" stroke="#fff" stroke-width="1.56" />
<path d="M521.1 847.5 L521.4 854.8" fill="none" stroke="#fff" stroke-width="1.56" />
<path d="M525.1 846.6 L525.4 853.9" fill="none" stroke="#fff" stroke-width="1.56" />
<path d="M529.1 845.7 L529.4 853" fill="none" stroke="#fff" stroke-width="1.56" />
<path d="M533 844.8 L533.4 852.1" fill="none" stroke="#fff" stroke-width="1.56" />
<path d="M508.3 854.8 L512.4 853.9" fill="none" stroke="#fff" stroke-width="1.44" />
<path d="M515.4 853.3 L519.5 852.4" fill="none" stroke="#fff" stroke-width="1.44" />
<path d="M522.4 851.8 L526.5 850.9" fill="none" stroke="#fff" stroke-width="1.44" />
<path d="M529.4 850.3 L533.5 849.3" fill="none" stroke="#fff" stroke-width="1.44" />
<ellipse cx="522.4" cy="897" rx="30.6" ry="30.2" transform="rotate(0 522.4 897)" fill="#fff" stroke="#111" stroke-width="2.16"/>
<ellipse cx="525.3" cy="897" rx="28.2" ry="29.2" transform="rotate(0 525.3 897)" fill="none" stroke="#111" stroke-width="1.44"/>
<ellipse cx="528.2" cy="897" rx="25.6" ry="27.6" transform="rotate(0 528.2 897)" fill="none" stroke="#111" stroke-width="1.92"/>
<ellipse cx="531.2" cy="897" rx="22.4" ry="25.6" transform="rotate(0 531.2 897)" fill="none" stroke="#111" stroke-width="2.04"/>
<ellipse cx="531.8" cy="897" rx="19.6" ry="22.6" transform="rotate(0 531.8 897)" fill="none" stroke="#111" stroke-width="1.44"/>
<path d="M498.4 885.3 L505.4 886.5 L505.2 891.2 L498.6 890Z" fill="#fff" stroke="#111" stroke-width="1.68" />
<path d="M494.3 894.7 L498.6 895.3 L498.6 899.4" fill="none" stroke="#111" stroke-width="1.68" />
<path d="M537 863.6 C539.1 864.5 540.6 863.6 544.1 866.6 C547.6 869.6 546.8 869.4 548.8 873.6 C550.7 877.8 550 878.5 550.5 880.6" fill="none" stroke="#111" stroke-width="2.64" />
<path d="M535.9 892.3 L541.7 884.1 L548.8 887.7 L542.3 897Z" fill="#fff" stroke="#111" stroke-width="1.8" />
<path d="M523 914.6 L530 906.4 L537 908.8 L531.2 918.1Z" fill="#fff" stroke="#111" stroke-width="1.8" />
<path d="M520.6 897 C521.7 895.6 521.3 894.5 524.1 892.3 C527 890.2 527.5 889.3 530 890 C532.5 890.7 531.6 893.3 532.3 894.7" fill="none" stroke="#111" stroke-width="1.92" />
<path d="M520 897.6 C520 899.6 518.5 901.1 520 904.1 C521.6 907.1 523.7 906.5 525.3 907.6" fill="none" stroke="#111" stroke-width="1.92" />
<path d="M524.1 897 L539.4 901.7 L544.1 900 L546.4 904.1 L541.7 907.6 L525.3 904.1Z" fill="#fff" stroke="#111" stroke-width="1.92" />
<ellipse cx="542.9" cy="903.5" rx="2.8" ry="3.4" transform="rotate(0 542.9 903.5)" fill="#fff" stroke="#111" stroke-width="1.68"/>
<path d="M546.4 904.7 L552.3 905.8" fill="none" stroke="#111" stroke-width="2.4" />
<path d="M525.3 895.9 L530 892.3 L537 895.9" fill="none" stroke="#111" stroke-width="1.68" />
<ellipse cx="580" cy="912.7" rx="22.4" ry="29.8" transform="rotate(22 580 912.7)" fill="none" stroke="#151515" stroke-width="3.7"/>
<ellipse cx="580" cy="912.7" rx="22.4" ry="29.8" transform="rotate(22 580 912.7)" fill="none" stroke="#fff" stroke-width="1.0"/>
<path d="M411.7 904.1 C415.2 907.8 415.2 909.5 423.4 916.4 C431.6 923.3 429.7 921.7 439.1 927.1 C448.4 932.6 445.3 930.9 454.7 934.5 C464.1 938.2 462.7 936.8 470.3 939.2 C477.9 941.7 475.4 939.9 480.1 942.7 C484.8 945.5 483.5 945.1 485.9 948.6 C488.4 952.1 485.4 952.8 488.3 954.5 C491.2 956.1 491.4 953.6 495.7 954.1 C500 954.5 497.9 953.3 502.5 956 C507.2 958.8 505.8 958.4 511.3 963.2 C516.9 968 514.6 966.8 521.1 972 C527.5 977.3 524.6 975.8 532.8 980.8 C541 985.8 539.6 984.6 548.4 988.6 C557.2 992.6 554.8 991.5 562.1 994.1 C569.4 996.7 569.6 996.4 572.9 997.4 L572.9 997.8 C569.6 997.4 569.4 998 562.1 996.4 C554.8 994.9 557.2 995.8 548.4 992.5 C539.6 989.3 541 990.1 532.8 985.7 C524.6 981.3 527.5 983.2 521.1 977.9 C514.6 972.6 516.9 974 511.3 968.1 C505.8 962.3 507.2 961.9 502.5 958.4 C497.9 954.8 500.1 956.9 495.7 956.4 C491.3 955.9 491.3 958.8 487.9 956.8 C484.5 954.7 487 953.2 484.4 949.6 C481.7 945.9 483.3 947 479.1 944.7 C474.9 942.3 477.6 943.7 470.3 941.8 C463 939.8 464.1 941.3 454.7 938.2 C445.3 935.1 448.4 937.1 439.1 931.4 C429.7 925.7 431.6 927.4 423.4 919.3 C415.2 911.2 415.2 908.9 411.7 904.5Z" fill="#151515" stroke="#151515" stroke-width="0.7"/>
</g>
</svg>
</body></html>
